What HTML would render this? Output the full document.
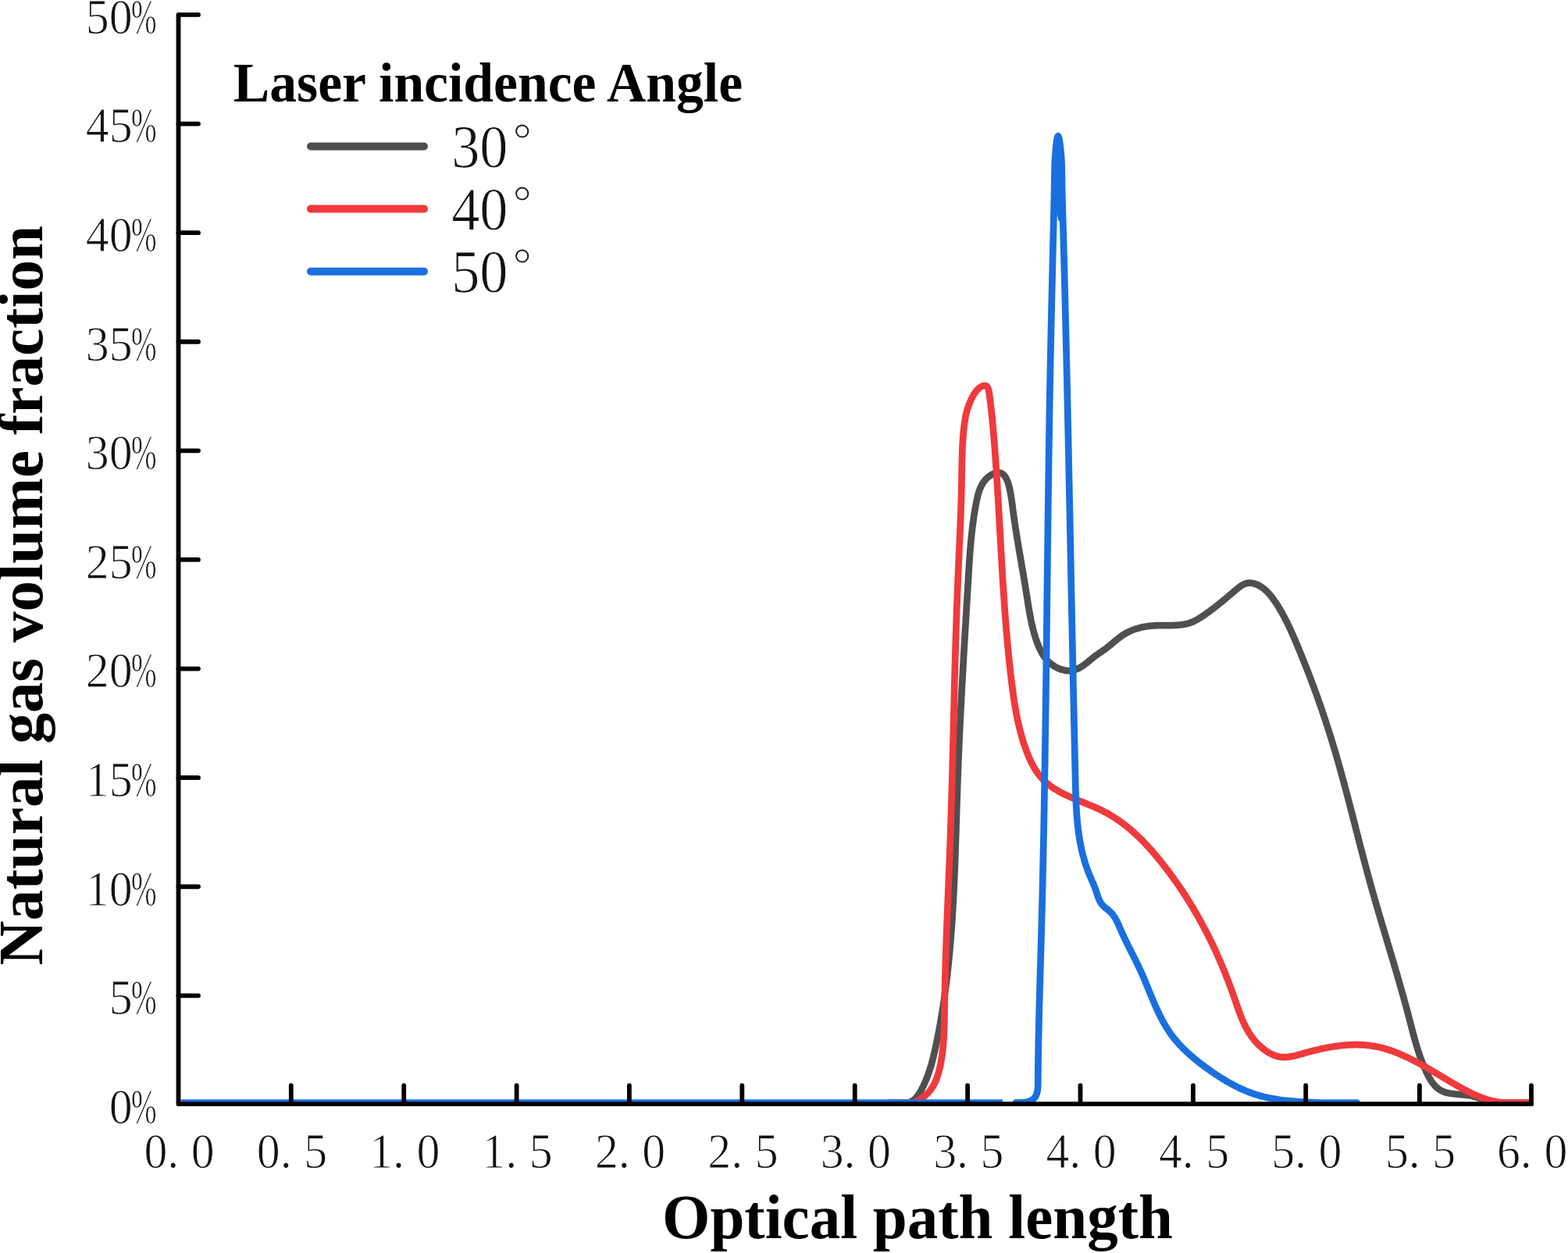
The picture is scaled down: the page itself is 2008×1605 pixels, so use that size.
<!DOCTYPE html>
<html><head><meta charset="utf-8"><title>Natural gas volume fraction vs optical path length</title>
<style>html,body{margin:0;padding:0;background:#fff;overflow:hidden;}svg{display:block;filter:blur(0.7px);}</style></head>
<body>
<svg width="2008" height="1605" viewBox="0 0 2008 1605">
<rect width="2008" height="1605" fill="#fff"/>
<defs><clipPath id="pc"><rect x="0" y="0" width="2008" height="1416.5"/></clipPath></defs><g clip-path="url(#pc)" fill="none" stroke-width="8.7" stroke-linecap="round" stroke-linejoin="round"><path d="M1140.0,1412.6L1160.1,1412.8L1161.7,1412.6L1163.2,1412.4L1164.6,1412.0L1165.9,1411.5L1167.2,1410.9L1168.5,1410.2L1169.6,1409.4L1170.7,1408.6L1171.8,1407.6L1172.8,1406.6L1173.8,1405.5L1174.7,1404.3L1175.6,1403.1L1176.5,1401.9L1177.3,1400.6L1178.1,1399.3L1178.8,1398.0L1179.6,1396.6L1180.3,1395.3L1181.0,1393.9L1181.7,1392.5L1182.4,1391.2L1183.0,1389.8L1183.7,1388.4L1184.3,1387.0L1184.9,1385.6L1185.5,1384.2L1186.1,1382.8L1186.7,1381.4L1187.2,1380.0L1187.7,1378.6L1188.3,1377.2L1188.8,1375.8L1189.3,1374.4L1189.8,1372.9L1190.2,1371.5L1190.7,1370.1L1191.2,1368.6L1191.6,1367.2L1192.0,1365.8L1192.5,1364.3L1192.9,1362.9L1193.3,1361.4L1193.7,1360.0L1194.1,1358.5L1194.4,1357.1L1194.8,1355.6L1195.2,1354.2L1195.5,1352.7L1195.9,1351.2L1196.2,1349.8L1196.6,1348.3L1196.9,1346.8L1197.2,1345.4L1197.6,1343.9L1197.9,1342.4L1198.2,1341.0L1198.5,1339.5L1198.8,1338.0L1199.1,1336.6L1199.4,1335.1L1199.7,1333.6L1200.0,1332.2L1200.3,1330.7L1200.6,1329.2L1200.9,1327.8L1201.2,1326.3L1201.5,1324.8L1201.8,1323.3L1202.1,1321.9L1202.4,1320.4L1202.6,1318.9L1202.9,1317.5L1203.2,1316.0L1203.4,1314.5L1203.7,1313.0L1204.0,1311.6L1204.2,1310.1L1204.5,1308.6L1204.8,1307.1L1205.0,1305.7L1205.3,1304.2L1205.5,1302.7L1205.8,1301.2L1206.0,1299.8L1206.2,1298.3L1206.5,1296.8L1206.7,1295.3L1207.0,1293.8L1207.2,1292.4L1207.4,1290.9L1207.7,1289.4L1207.9,1287.9L1208.1,1286.5L1208.3,1285.0L1208.5,1283.5L1208.8,1282.0L1209.0,1280.5L1209.2,1279.1L1209.4,1277.6L1209.6,1276.1L1209.8,1274.6L1210.0,1273.1L1210.2,1271.6L1210.4,1270.2L1210.6,1268.7L1210.8,1267.2L1211.0,1265.7L1211.2,1264.2L1211.4,1262.8L1211.6,1261.3L1211.8,1259.8L1212.0,1258.3L1212.1,1256.8L1212.3,1255.3L1212.5,1253.8L1212.7,1252.4L1212.9,1250.9L1213.0,1249.4L1213.2,1247.9L1213.4,1246.4L1213.5,1244.9L1213.7,1243.4L1213.9,1242.0L1214.0,1240.5L1214.2,1239.0L1214.3,1237.5L1214.5,1236.0L1214.7,1234.5L1214.8,1233.0L1215.0,1231.5L1215.1,1230.1L1215.3,1228.6L1215.4,1227.1L1215.5,1225.6L1215.7,1224.1L1215.8,1222.6L1216.0,1221.1L1216.1,1219.6L1216.2,1218.1L1216.4,1216.7L1216.5,1215.2L1216.6,1213.7L1216.8,1212.2L1216.9,1210.7L1217.0,1209.2L1217.2,1207.7L1217.3,1206.2L1217.4,1204.7L1217.5,1203.2L1217.6,1201.7L1217.8,1200.2L1217.9,1198.8L1218.0,1197.3L1218.1,1195.8L1218.2,1194.3L1218.3,1192.8L1218.4,1191.3L1218.5,1189.8L1218.7,1188.3L1218.8,1186.8L1218.9,1185.3L1219.0,1183.8L1219.1,1182.3L1219.2,1180.8L1219.3,1179.3L1219.4,1177.8L1219.5,1176.3L1219.6,1174.8L1219.7,1173.4L1219.8,1171.9L1219.8,1170.4L1219.9,1168.9L1220.0,1167.4L1220.1,1165.9L1220.2,1164.4L1220.3,1162.9L1220.4,1161.4L1220.5,1159.9L1220.5,1158.4L1220.6,1156.9L1220.7,1155.4L1220.8,1153.9L1220.9,1152.4L1221.0,1150.9L1221.0,1149.4L1221.1,1147.9L1221.2,1146.4L1221.3,1144.9L1221.3,1143.4L1221.4,1141.9L1221.5,1140.4L1221.6,1138.9L1221.6,1137.4L1221.7,1135.9L1221.8,1134.4L1221.8,1132.9L1221.9,1131.4L1222.0,1129.9L1222.0,1128.4L1222.1,1126.9L1222.2,1125.4L1222.2,1123.9L1222.3,1122.4L1222.4,1120.9L1222.4,1119.4L1222.5,1117.9L1222.5,1116.4L1222.6,1114.9L1222.7,1113.4L1222.7,1111.9L1222.8,1110.4L1222.8,1108.9L1222.9,1107.4L1222.9,1105.9L1223.0,1104.4L1223.1,1102.9L1223.1,1101.4L1223.2,1099.9L1223.2,1098.4L1223.3,1096.9L1223.3,1095.4L1223.4,1093.9L1223.4,1092.4L1223.5,1090.9L1223.5,1089.4L1223.6,1087.9L1223.6,1086.4L1223.7,1084.9L1223.7,1083.4L1223.8,1081.9L1223.8,1080.4L1223.9,1078.9L1223.9,1077.4L1224.0,1075.9L1224.0,1074.4L1224.1,1072.9L1224.1,1071.4L1224.2,1069.9L1224.2,1068.4L1224.3,1066.9L1224.3,1065.4L1224.4,1063.9L1224.4,1062.4L1224.5,1060.9L1224.5,1059.4L1224.5,1057.9L1224.6,1056.4L1224.6,1054.9L1224.7,1053.4L1224.7,1051.9L1224.8,1050.4L1224.8,1048.9L1224.9,1047.4L1224.9,1045.9L1225.0,1044.4L1225.0,1042.9L1225.1,1041.4L1225.1,1039.9L1225.1,1038.4L1225.2,1036.9L1225.2,1035.3L1225.3,1033.8L1225.3,1032.3L1225.4,1030.8L1225.4,1029.3L1225.5,1027.8L1225.5,1026.3L1225.6,1024.8L1225.6,1023.3L1225.7,1021.8L1225.7,1020.3L1225.8,1018.8L1225.8,1017.3L1225.9,1015.8L1225.9,1014.3L1226.0,1012.8L1226.0,1011.3L1226.1,1009.8L1226.1,1008.3L1226.2,1006.8L1226.2,1005.3L1226.3,1003.8L1226.3,1002.3L1226.4,1000.8L1226.4,999.3L1226.5,997.8L1226.5,996.3L1226.6,994.8L1226.6,993.3L1226.7,991.8L1226.8,990.3L1226.8,988.8L1226.9,987.3L1226.9,985.8L1227.0,984.3L1227.0,982.8L1227.1,981.3L1227.2,979.8L1227.2,978.3L1227.3,976.8L1227.3,975.3L1227.4,973.8L1227.5,972.3L1227.5,970.8L1227.6,969.3L1227.7,967.8L1227.7,966.3L1227.8,964.8L1227.8,963.3L1227.9,961.8L1228.0,960.3L1228.0,958.8L1228.1,957.3L1228.2,955.8L1228.2,954.3L1228.3,952.8L1228.4,951.3L1228.4,949.8L1228.5,948.3L1228.6,946.8L1228.6,945.3L1228.7,943.8L1228.8,942.3L1228.8,940.8L1228.9,939.3L1229.0,937.8L1229.1,936.3L1229.1,934.8L1229.2,933.3L1229.3,931.8L1229.3,930.3L1229.4,928.8L1229.5,927.3L1229.6,925.8L1229.6,924.3L1229.7,922.8L1229.8,921.3L1229.8,919.8L1229.9,918.3L1230.0,916.8L1230.1,915.3L1230.1,913.8L1230.2,912.3L1230.3,910.8L1230.4,909.3L1230.5,907.8L1230.5,906.3L1230.6,904.8L1230.7,903.3L1230.8,901.8L1230.8,900.3L1230.9,898.8L1231.0,897.3L1231.1,895.8L1231.1,894.3L1231.2,892.8L1231.3,891.3L1231.4,889.8L1231.5,888.3L1231.5,886.8L1231.6,885.3L1231.7,883.8L1231.8,882.3L1231.9,880.8L1231.9,879.3L1232.0,877.8L1232.1,876.3L1232.2,874.8L1232.3,873.3L1232.4,871.8L1232.4,870.3L1232.5,868.8L1232.6,867.3L1232.7,865.8L1232.8,864.3L1232.9,862.8L1232.9,861.4L1233.0,859.9L1233.1,858.4L1233.2,856.9L1233.3,855.4L1233.4,853.9L1233.4,852.4L1233.5,850.9L1233.6,849.4L1233.7,847.9L1233.8,846.4L1233.9,844.9L1233.9,843.4L1234.0,841.9L1234.1,840.4L1234.2,838.9L1234.3,837.4L1234.4,835.9L1234.5,834.4L1234.6,832.9L1234.6,831.4L1234.7,829.9L1234.8,828.4L1234.9,827.0L1235.0,825.5L1235.1,824.0L1235.2,822.5L1235.3,821.0L1235.3,819.5L1235.4,818.0L1235.5,816.5L1235.6,815.0L1235.7,813.5L1235.8,812.0L1235.9,810.5L1236.0,809.0L1236.0,807.5L1236.1,806.0L1236.2,804.5L1236.3,803.0L1236.4,801.6L1236.5,800.1L1236.6,798.6L1236.7,797.1L1236.8,795.6L1236.8,794.1L1236.9,792.6L1237.0,791.1L1237.1,789.6L1237.2,788.1L1237.3,786.6L1237.4,785.1L1237.5,783.6L1237.6,782.1L1237.6,780.7L1237.7,779.2L1237.8,777.7L1237.9,776.2L1238.0,774.7L1238.1,773.2L1238.2,771.7L1238.3,770.2L1238.4,768.7L1238.5,767.2L1238.5,765.7L1238.6,764.2L1238.7,762.8L1238.8,761.3L1238.9,759.8L1239.0,758.3L1239.1,756.8L1239.2,755.3L1239.3,753.8L1239.4,752.3L1239.4,750.8L1239.5,749.3L1239.6,747.9L1239.7,746.4L1239.8,744.9L1239.9,743.4L1240.0,741.9L1240.1,740.4L1240.2,738.9L1240.3,737.4L1240.3,735.9L1240.4,734.4L1240.5,733.0L1240.6,731.5L1240.7,730.0L1240.8,728.5L1240.9,727.0L1241.0,725.5L1241.1,724.0L1241.2,722.5L1241.3,721.0L1241.4,719.6L1241.5,718.1L1241.6,716.6L1241.7,715.1L1241.8,713.6L1241.9,712.1L1242.0,710.6L1242.1,709.1L1242.2,707.6L1242.3,706.1L1242.4,704.7L1242.6,703.2L1242.7,701.7L1242.8,700.2L1242.9,698.7L1243.1,697.2L1243.2,695.7L1243.3,694.2L1243.5,692.7L1243.6,691.2L1243.7,689.7L1243.9,688.2L1244.0,686.7L1244.2,685.2L1244.4,683.7L1244.5,682.2L1244.7,680.7L1244.9,679.2L1245.0,677.7L1245.2,676.2L1245.4,674.7L1245.6,673.2L1245.8,671.7L1246.0,670.2L1246.2,668.7L1246.4,667.2L1246.6,665.7L1246.8,664.2L1247.0,662.7L1247.2,661.2L1247.5,659.7L1247.7,658.2L1247.9,656.7L1248.2,655.2L1248.4,653.6L1248.7,652.1L1249.0,650.6L1249.2,649.1L1249.5,647.6L1249.8,646.1L1250.1,644.6L1250.4,643.0L1250.7,641.5L1251.0,640.0L1251.3,638.5L1251.7,637.0L1252.0,635.5L1252.4,634.0L1252.8,632.5L1253.3,631.1L1253.7,629.7L1254.2,628.2L1254.7,626.8L1255.3,625.4L1255.9,624.1L1256.5,622.7L1257.2,621.4L1257.9,620.2L1258.6,618.9L1259.4,617.7L1260.3,616.5L1261.2,615.4L1262.1,614.3L1263.1,613.2L1264.2,612.2L1265.3,611.2L1266.5,610.2L1267.8,609.4L1269.0,608.6L1270.3,607.8L1271.7,607.2L1273.0,606.6L1274.3,606.2L1275.7,605.8L1277.0,605.6L1278.3,605.5L1279.5,605.5L1280.7,605.7L1281.9,606.0L1283.0,606.5L1284.0,607.2L1285.0,608.0L1285.9,608.9L1286.8,610.0L1287.6,611.2L1288.3,612.4L1289.0,613.8L1289.7,615.3L1290.3,616.8L1290.8,618.4L1291.4,620.0L1291.9,621.7L1292.3,623.4L1292.7,625.1L1293.1,626.8L1293.5,628.5L1293.8,630.1L1294.1,631.8L1294.4,633.4L1294.7,634.9L1294.9,636.5L1295.2,638.0L1295.4,639.5L1295.6,641.0L1295.8,642.5L1296.0,644.0L1296.2,645.4L1296.4,646.9L1296.6,648.3L1296.7,649.7L1296.9,651.2L1297.1,652.6L1297.3,654.1L1297.5,655.5L1297.7,656.9L1297.9,658.4L1298.1,659.8L1298.3,661.3L1298.5,662.7L1298.7,664.2L1298.9,665.6L1299.1,667.1L1299.3,668.6L1299.5,670.0L1299.8,671.5L1300.0,672.9L1300.2,674.4L1300.4,675.9L1300.7,677.3L1300.9,678.8L1301.1,680.3L1301.3,681.7L1301.6,683.2L1301.8,684.7L1302.1,686.1L1302.3,687.6L1302.5,689.1L1302.8,690.5L1303.0,692.0L1303.3,693.5L1303.5,695.0L1303.7,696.4L1304.0,697.9L1304.2,699.4L1304.5,700.9L1304.7,702.4L1305.0,703.8L1305.2,705.3L1305.5,706.8L1305.7,708.3L1306.0,709.8L1306.2,711.2L1306.5,712.7L1306.8,714.2L1307.0,715.7L1307.3,717.2L1307.5,718.7L1307.8,720.2L1308.0,721.6L1308.3,723.1L1308.5,724.6L1308.8,726.1L1309.0,727.6L1309.3,729.1L1309.6,730.6L1309.8,732.1L1310.1,733.6L1310.3,735.0L1310.6,736.5L1310.8,738.0L1311.1,739.5L1311.3,741.0L1311.6,742.5L1311.8,744.0L1312.1,745.5L1312.3,747.0L1312.6,748.5L1312.8,749.9L1313.1,751.4L1313.3,752.9L1313.5,754.4L1313.8,755.9L1314.0,757.4L1314.3,758.9L1314.5,760.4L1314.7,761.9L1315.0,763.4L1315.2,764.8L1315.4,766.3L1315.7,767.8L1315.9,769.3L1316.1,770.8L1316.4,772.3L1316.6,773.8L1316.8,775.3L1317.1,776.7L1317.3,778.2L1317.6,779.7L1317.8,781.2L1318.1,782.7L1318.3,784.1L1318.6,785.6L1318.9,787.1L1319.2,788.6L1319.4,790.0L1319.7,791.5L1320.0,793.0L1320.3,794.4L1320.6,795.9L1320.9,797.3L1321.2,798.8L1321.6,800.3L1321.9,801.7L1322.3,803.2L1322.6,804.6L1323.0,806.0L1323.3,807.5L1323.7,808.9L1324.1,810.4L1324.5,811.8L1325.0,813.2L1325.4,814.7L1325.8,816.1L1326.3,817.5L1326.7,818.9L1327.2,820.3L1327.7,821.7L1328.2,823.1L1328.7,824.5L1329.3,825.9L1329.9,827.3L1330.4,828.7L1331.0,830.0L1331.7,831.4L1332.3,832.7L1333.0,834.0L1333.7,835.3L1334.4,836.6L1335.1,837.9L1335.9,839.1L1336.7,840.3L1337.6,841.5L1338.4,842.7L1339.3,843.8L1340.3,844.9L1341.2,846.0L1342.2,847.1L1343.3,848.1L1344.4,849.1L1345.5,850.1L1346.7,851.0L1347.9,851.9L1349.1,852.7L1350.4,853.6L1351.8,854.3L1353.1,855.1L1354.6,855.8L1356.0,856.4L1357.5,857.0L1359.0,857.5L1360.5,857.9L1362.0,858.3L1363.6,858.7L1365.1,858.9L1366.6,859.1L1368.2,859.2L1369.7,859.2L1371.1,859.1L1372.6,859.0L1374.0,858.7L1375.4,858.4L1376.8,857.9L1378.1,857.4L1379.5,856.9L1380.8,856.3L1382.1,855.6L1383.4,854.9L1384.6,854.1L1385.9,853.3L1387.1,852.5L1388.4,851.6L1389.6,850.7L1390.8,849.8L1392.0,848.8L1393.2,847.9L1394.4,846.9L1395.6,845.9L1396.8,844.9L1398.0,844.0L1399.1,843.0L1400.3,842.1L1401.5,841.1L1402.7,840.2L1403.9,839.3L1405.1,838.4L1406.4,837.6L1407.6,836.7L1408.8,835.9L1410.0,835.1L1411.2,834.3L1412.4,833.4L1413.6,832.6L1414.8,831.8L1416.0,830.9L1417.2,830.0L1418.4,829.0L1419.6,828.1L1420.8,827.1L1422.0,826.2L1423.1,825.2L1424.3,824.2L1425.5,823.2L1426.7,822.2L1427.9,821.2L1429.0,820.3L1430.2,819.3L1431.4,818.3L1432.6,817.4L1433.8,816.5L1435.1,815.5L1436.3,814.7L1437.5,813.8L1438.8,813.0L1440.1,812.2L1441.3,811.4L1442.6,810.7L1444.0,810.0L1445.3,809.3L1446.6,808.7L1447.9,808.1L1449.3,807.5L1450.7,807.0L1452.0,806.5L1453.4,806.0L1454.8,805.5L1456.2,805.1L1457.7,804.7L1459.1,804.3L1460.5,803.9L1461.9,803.6L1463.4,803.3L1464.8,803.0L1466.3,802.7L1467.8,802.5L1469.2,802.3L1470.7,802.1L1472.2,801.9L1473.7,801.7L1475.2,801.6L1476.7,801.5L1478.2,801.4L1479.7,801.3L1481.2,801.2L1482.7,801.2L1484.2,801.1L1485.7,801.1L1487.2,801.1L1488.7,801.1L1490.2,801.1L1491.8,801.1L1493.3,801.1L1494.8,801.1L1496.3,801.1L1497.8,801.1L1499.3,801.1L1500.8,801.1L1502.3,801.0L1503.8,801.0L1505.3,800.9L1506.8,800.8L1508.3,800.7L1509.8,800.6L1511.2,800.5L1512.7,800.3L1514.2,800.1L1515.6,799.9L1517.1,799.6L1518.5,799.3L1520.0,799.0L1521.4,798.6L1522.8,798.2L1524.2,797.7L1525.6,797.2L1527.0,796.7L1528.4,796.1L1529.7,795.4L1531.1,794.7L1532.4,794.0L1533.8,793.2L1535.1,792.4L1536.4,791.6L1537.7,790.8L1539.0,790.0L1540.3,789.1L1541.6,788.2L1542.8,787.4L1544.1,786.5L1545.3,785.6L1546.6,784.7L1547.8,783.9L1549.0,783.0L1550.2,782.1L1551.4,781.2L1552.6,780.3L1553.8,779.4L1554.9,778.5L1556.1,777.6L1557.3,776.7L1558.4,775.8L1559.6,774.9L1560.7,774.0L1561.9,773.0L1563.0,772.1L1564.2,771.2L1565.3,770.2L1566.5,769.3L1567.6,768.3L1568.8,767.4L1569.9,766.4L1571.0,765.5L1572.2,764.5L1573.3,763.5L1574.5,762.6L1575.6,761.6L1576.8,760.6L1578.0,759.6L1579.1,758.6L1580.3,757.6L1581.5,756.6L1582.7,755.6L1583.8,754.6L1585.0,753.6L1586.3,752.6L1587.5,751.7L1588.7,750.9L1590.0,750.0L1591.2,749.3L1592.5,748.6L1593.8,748.0L1595.2,747.5L1596.5,747.1L1597.9,746.9L1599.3,746.7L1600.7,746.7L1602.2,746.8L1603.6,747.0L1605.1,747.3L1606.5,747.7L1607.9,748.1L1609.3,748.6L1610.7,749.2L1612.0,749.9L1613.3,750.6L1614.5,751.3L1615.7,752.1L1616.9,752.9L1618.1,753.8L1619.3,754.7L1620.4,755.7L1621.5,756.7L1622.6,757.8L1623.6,758.9L1624.7,760.0L1625.7,761.1L1626.7,762.3L1627.6,763.5L1628.6,764.7L1629.5,765.9L1630.4,767.1L1631.3,768.4L1632.2,769.7L1633.1,771.0L1634.0,772.3L1634.8,773.5L1635.6,774.8L1636.5,776.1L1637.3,777.4L1638.1,778.8L1638.8,780.1L1639.6,781.4L1640.4,782.7L1641.1,784.0L1641.9,785.3L1642.6,786.6L1643.3,788.0L1644.1,789.3L1644.8,790.6L1645.5,792.0L1646.2,793.3L1646.8,794.6L1647.5,796.0L1648.2,797.3L1648.8,798.7L1649.5,800.0L1650.1,801.3L1650.8,802.7L1651.4,804.0L1652.0,805.4L1652.7,806.8L1653.3,808.1L1653.9,809.5L1654.5,810.8L1655.1,812.2L1655.7,813.6L1656.3,814.9L1656.9,816.3L1657.5,817.6L1658.1,819.0L1658.7,820.4L1659.2,821.8L1659.8,823.1L1660.4,824.5L1661.0,825.9L1661.6,827.2L1662.1,828.6L1662.7,830.0L1663.3,831.4L1663.9,832.8L1664.4,834.1L1665.0,835.5L1665.6,836.9L1666.1,838.3L1666.7,839.7L1667.2,841.0L1667.8,842.4L1668.4,843.8L1668.9,845.2L1669.5,846.6L1670.0,848.0L1670.6,849.4L1671.1,850.8L1671.7,852.1L1672.2,853.5L1672.8,854.9L1673.3,856.3L1673.9,857.7L1674.4,859.1L1675.0,860.5L1675.5,861.9L1676.0,863.3L1676.6,864.7L1677.1,866.1L1677.7,867.5L1678.2,868.9L1678.7,870.3L1679.2,871.7L1679.8,873.1L1680.3,874.5L1680.8,875.9L1681.4,877.3L1681.9,878.7L1682.4,880.1L1682.9,881.5L1683.4,883.0L1683.9,884.4L1684.5,885.8L1685.0,887.2L1685.5,888.6L1686.0,890.0L1686.5,891.4L1687.0,892.8L1687.5,894.2L1688.0,895.7L1688.5,897.1L1689.0,898.5L1689.5,899.9L1690.0,901.3L1690.5,902.7L1691.0,904.2L1691.5,905.6L1692.0,907.0L1692.5,908.4L1693.0,909.8L1693.4,911.3L1693.9,912.7L1694.4,914.1L1694.9,915.5L1695.4,917.0L1695.8,918.4L1696.3,919.8L1696.8,921.2L1697.3,922.7L1697.7,924.1L1698.2,925.5L1698.7,926.9L1699.1,928.4L1699.6,929.8L1700.1,931.2L1700.5,932.7L1701.0,934.1L1701.4,935.5L1701.9,936.9L1702.4,938.4L1702.8,939.8L1703.3,941.2L1703.7,942.7L1704.2,944.1L1704.6,945.5L1705.0,947.0L1705.5,948.4L1705.9,949.8L1706.4,951.3L1706.8,952.7L1707.2,954.2L1707.7,955.6L1708.1,957.0L1708.5,958.5L1709.0,959.9L1709.4,961.3L1709.8,962.8L1710.2,964.2L1710.7,965.7L1711.1,967.1L1711.5,968.5L1711.9,970.0L1712.3,971.4L1712.7,972.9L1713.2,974.3L1713.6,975.7L1714.0,977.2L1714.4,978.6L1714.8,980.1L1715.2,981.5L1715.6,983.0L1716.0,984.4L1716.4,985.8L1716.8,987.3L1717.2,988.7L1717.6,990.2L1718.0,991.6L1718.4,993.1L1718.8,994.5L1719.2,995.9L1719.6,997.4L1720.0,998.8L1720.4,1000.3L1720.8,1001.7L1721.2,1003.2L1721.5,1004.6L1721.9,1006.1L1722.3,1007.5L1722.7,1009.0L1723.1,1010.4L1723.5,1011.9L1723.9,1013.3L1724.3,1014.8L1724.6,1016.2L1725.0,1017.7L1725.4,1019.1L1725.8,1020.5L1726.2,1022.0L1726.5,1023.4L1726.9,1024.9L1727.3,1026.3L1727.7,1027.8L1728.1,1029.2L1728.4,1030.7L1728.8,1032.1L1729.2,1033.6L1729.6,1035.0L1729.9,1036.5L1730.3,1037.9L1730.7,1039.4L1731.1,1040.8L1731.4,1042.3L1731.8,1043.7L1732.2,1045.2L1732.5,1046.6L1732.9,1048.1L1733.3,1049.5L1733.7,1051.0L1734.0,1052.4L1734.4,1053.9L1734.8,1055.3L1735.2,1056.8L1735.5,1058.2L1735.9,1059.7L1736.3,1061.1L1736.6,1062.6L1737.0,1064.1L1737.4,1065.5L1737.8,1067.0L1738.1,1068.4L1738.5,1069.9L1738.9,1071.3L1739.3,1072.8L1739.6,1074.2L1740.0,1075.7L1740.4,1077.1L1740.7,1078.6L1741.1,1080.0L1741.5,1081.5L1741.9,1082.9L1742.2,1084.4L1742.6,1085.8L1743.0,1087.3L1743.4,1088.7L1743.8,1090.2L1744.1,1091.6L1744.5,1093.1L1744.9,1094.5L1745.3,1096.0L1745.6,1097.4L1746.0,1098.9L1746.4,1100.3L1746.8,1101.8L1747.2,1103.2L1747.6,1104.7L1747.9,1106.1L1748.3,1107.5L1748.7,1109.0L1749.1,1110.4L1749.5,1111.9L1749.9,1113.3L1750.3,1114.8L1750.6,1116.2L1751.0,1117.7L1751.4,1119.1L1751.8,1120.6L1752.2,1122.0L1752.6,1123.5L1753.0,1124.9L1753.4,1126.4L1753.8,1127.8L1754.2,1129.3L1754.6,1130.7L1755.0,1132.1L1755.4,1133.6L1755.8,1135.0L1756.2,1136.5L1756.6,1137.9L1757.0,1139.4L1757.4,1140.8L1757.8,1142.2L1758.2,1143.7L1758.6,1145.1L1759.1,1146.6L1759.5,1148.0L1759.9,1149.5L1760.3,1150.9L1760.7,1152.3L1761.1,1153.8L1761.5,1155.2L1762.0,1156.7L1762.4,1158.1L1762.8,1159.6L1763.2,1161.0L1763.6,1162.4L1764.1,1163.9L1764.5,1165.3L1764.9,1166.8L1765.3,1168.2L1765.7,1169.6L1766.2,1171.1L1766.6,1172.5L1767.0,1174.0L1767.4,1175.4L1767.9,1176.8L1768.3,1178.3L1768.7,1179.7L1769.1,1181.2L1769.6,1182.6L1770.0,1184.0L1770.4,1185.5L1770.8,1186.9L1771.3,1188.4L1771.7,1189.8L1772.1,1191.2L1772.6,1192.7L1773.0,1194.1L1773.4,1195.6L1773.8,1197.0L1774.3,1198.4L1774.7,1199.9L1775.1,1201.3L1775.6,1202.7L1776.0,1204.2L1776.4,1205.6L1776.8,1207.1L1777.3,1208.5L1777.7,1209.9L1778.1,1211.4L1778.6,1212.8L1779.0,1214.3L1779.4,1215.7L1779.8,1217.1L1780.3,1218.6L1780.7,1220.0L1781.1,1221.4L1781.6,1222.9L1782.0,1224.3L1782.4,1225.8L1782.8,1227.2L1783.3,1228.6L1783.7,1230.1L1784.1,1231.5L1784.5,1233.0L1785.0,1234.4L1785.4,1235.8L1785.8,1237.3L1786.2,1238.7L1786.7,1240.2L1787.1,1241.6L1787.5,1243.0L1787.9,1244.5L1788.3,1245.9L1788.8,1247.4L1789.2,1248.8L1789.6,1250.2L1790.0,1251.7L1790.4,1253.1L1790.9,1254.6L1791.3,1256.0L1791.7,1257.4L1792.1,1258.9L1792.5,1260.3L1792.9,1261.8L1793.3,1263.2L1793.8,1264.6L1794.2,1266.1L1794.6,1267.5L1795.0,1269.0L1795.4,1270.4L1795.8,1271.9L1796.2,1273.3L1796.6,1274.7L1797.0,1276.2L1797.4,1277.6L1797.8,1279.1L1798.2,1280.5L1798.6,1282.0L1799.0,1283.4L1799.4,1284.9L1799.8,1286.3L1800.2,1287.7L1800.6,1289.2L1801.0,1290.6L1801.4,1292.1L1801.8,1293.5L1802.2,1295.0L1802.5,1296.4L1802.9,1297.9L1803.3,1299.3L1803.7,1300.8L1804.1,1302.2L1804.4,1303.7L1804.8,1305.1L1805.2,1306.6L1805.6,1308.0L1806.0,1309.4L1806.3,1310.9L1806.7,1312.3L1807.1,1313.8L1807.5,1315.2L1807.8,1316.7L1808.2,1318.1L1808.6,1319.6L1809.0,1321.0L1809.3,1322.5L1809.7,1323.9L1810.1,1325.4L1810.5,1326.8L1810.9,1328.3L1811.3,1329.7L1811.7,1331.1L1812.1,1332.6L1812.5,1334.0L1812.9,1335.5L1813.3,1336.9L1813.8,1338.3L1814.2,1339.8L1814.6,1341.2L1815.1,1342.6L1815.5,1344.1L1816.0,1345.5L1816.4,1346.9L1816.9,1348.4L1817.4,1349.8L1817.8,1351.2L1818.3,1352.6L1818.8,1354.1L1819.3,1355.5L1819.9,1356.9L1820.4,1358.3L1820.9,1359.7L1821.5,1361.1L1822.0,1362.5L1822.6,1363.9L1823.2,1365.3L1823.8,1366.7L1824.4,1368.1L1825.0,1369.5L1825.6,1370.9L1826.2,1372.3L1826.9,1373.7L1827.6,1375.1L1828.2,1376.4L1828.9,1377.8L1829.6,1379.2L1830.4,1380.5L1831.1,1381.8L1831.9,1383.1L1832.7,1384.4L1833.5,1385.6L1834.4,1386.8L1835.3,1388.0L1836.2,1389.1L1837.1,1390.2L1838.1,1391.3L1839.1,1392.3L1840.2,1393.2L1841.3,1394.1L1842.4,1395.0L1843.5,1395.8L1844.7,1396.5L1846.0,1397.2L1847.3,1397.8L1848.6,1398.3L1850.0,1398.8L1851.4,1399.3L1852.8,1399.7L1854.3,1400.0L1855.7,1400.3L1857.3,1400.6L1858.8,1400.8L1860.3,1401.0L1861.9,1401.2L1863.5,1401.4L1865.1,1401.5L1866.7,1401.7L1868.3,1401.8L1869.9,1401.9L1871.5,1402.1L1873.1,1402.2L1874.6,1402.3L1876.2,1402.5L1877.8,1402.7L1879.3,1402.9L1880.9,1403.1L1882.4,1403.3L1883.9,1403.6L1885.3,1403.9L1886.7,1404.3L1888.1,1404.7L1889.5,1405.1L1890.9,1405.5L1892.2,1406.0L1893.5,1406.5L1894.9,1407.0L1896.2,1407.5L1897.5,1408.1L1898.8,1408.6L1900.2,1409.1L1901.5,1409.6L1902.9,1410.0L1904.3,1410.5L1905.7,1410.9L1907.2,1411.3L1908.6,1411.7L1910.2,1412.0L1911.7,1412.3L1913.3,1412.5L1915.0,1412.6L1958.0,1412.6" stroke="#4f4f4f" />
<path d="M1150.0,1412.6L1168.0,1412.6L1169.4,1412.1L1170.8,1411.6L1172.1,1411.1L1173.5,1410.5L1174.9,1409.9L1176.2,1409.2L1177.5,1408.5L1178.8,1407.7L1180.1,1406.8L1181.3,1406.0L1182.6,1405.1L1183.8,1404.1L1185.0,1403.1L1186.1,1402.1L1187.2,1401.1L1188.3,1400.0L1189.3,1398.9L1190.3,1397.7L1191.3,1396.6L1192.2,1395.4L1193.1,1394.1L1193.9,1392.9L1194.7,1391.7L1195.4,1390.4L1196.1,1389.1L1196.8,1387.8L1197.4,1386.4L1198.1,1385.1L1198.6,1383.7L1199.2,1382.3L1199.7,1380.9L1200.2,1379.5L1200.7,1378.1L1201.1,1376.7L1201.6,1375.2L1202.0,1373.8L1202.4,1372.4L1202.7,1370.9L1203.1,1369.4L1203.4,1368.0L1203.8,1366.5L1204.1,1365.0L1204.4,1363.6L1204.7,1362.1L1205.0,1360.6L1205.2,1359.2L1205.5,1357.7L1205.7,1356.2L1206.0,1354.7L1206.2,1353.2L1206.4,1351.8L1206.6,1350.3L1206.8,1348.8L1207.0,1347.3L1207.2,1345.8L1207.3,1344.3L1207.5,1342.9L1207.6,1341.4L1207.8,1339.9L1207.9,1338.4L1208.0,1336.9L1208.1,1335.4L1208.3,1333.9L1208.4,1332.4L1208.5,1330.9L1208.6,1329.4L1208.6,1327.9L1208.7,1326.4L1208.8,1324.9L1208.9,1323.4L1208.9,1321.9L1209.0,1320.4L1209.0,1318.9L1209.1,1317.4L1209.1,1315.9L1209.2,1314.4L1209.2,1312.9L1209.3,1311.4L1209.3,1309.9L1209.3,1308.4L1209.4,1306.9L1209.4,1305.4L1209.4,1303.9L1209.4,1302.4L1209.5,1300.9L1209.5,1299.4L1209.5,1297.9L1209.5,1296.4L1209.5,1294.9L1209.6,1293.4L1209.6,1291.9L1209.6,1290.4L1209.6,1288.9L1209.6,1287.4L1209.7,1285.9L1209.7,1284.4L1209.7,1282.9L1209.7,1281.4L1209.8,1279.9L1209.8,1278.4L1209.8,1276.9L1209.8,1275.4L1209.9,1273.9L1209.9,1272.4L1209.9,1270.9L1210.0,1269.4L1210.0,1267.9L1210.0,1266.4L1210.1,1264.9L1210.1,1263.4L1210.1,1261.9L1210.2,1260.3L1210.2,1258.8L1210.2,1257.3L1210.3,1255.8L1210.3,1254.3L1210.3,1252.8L1210.4,1251.3L1210.4,1249.8L1210.5,1248.3L1210.5,1246.8L1210.5,1245.3L1210.6,1243.8L1210.6,1242.3L1210.7,1240.8L1210.7,1239.3L1210.8,1237.8L1210.8,1236.3L1210.8,1234.8L1210.9,1233.3L1210.9,1231.8L1211.0,1230.3L1211.0,1228.8L1211.1,1227.3L1211.1,1225.8L1211.2,1224.3L1211.2,1222.8L1211.3,1221.3L1211.3,1219.9L1211.4,1218.4L1211.4,1216.9L1211.5,1215.4L1211.5,1213.9L1211.6,1212.4L1211.6,1210.9L1211.7,1209.4L1211.7,1207.9L1211.8,1206.4L1211.8,1204.9L1211.9,1203.4L1211.9,1201.9L1212.0,1200.4L1212.0,1198.9L1212.1,1197.4L1212.2,1195.9L1212.2,1194.4L1212.3,1192.9L1212.3,1191.4L1212.4,1189.9L1212.4,1188.4L1212.5,1186.9L1212.6,1185.4L1212.6,1183.9L1212.7,1182.4L1212.7,1180.9L1212.8,1179.4L1212.8,1177.9L1212.9,1176.4L1213.0,1174.9L1213.0,1173.4L1213.1,1171.9L1213.1,1170.4L1213.2,1168.9L1213.3,1167.4L1213.3,1165.9L1213.4,1164.4L1213.4,1162.9L1213.5,1161.4L1213.6,1159.9L1213.6,1158.4L1213.7,1156.9L1213.7,1155.4L1213.8,1154.0L1213.9,1152.5L1213.9,1151.0L1214.0,1149.5L1214.0,1148.0L1214.1,1146.5L1214.2,1145.0L1214.2,1143.5L1214.3,1142.0L1214.3,1140.5L1214.4,1139.0L1214.5,1137.5L1214.5,1136.0L1214.6,1134.5L1214.7,1133.0L1214.7,1131.5L1214.8,1130.0L1214.8,1128.5L1214.9,1127.0L1215.0,1125.5L1215.0,1124.0L1215.1,1122.5L1215.1,1121.0L1215.2,1119.5L1215.3,1118.0L1215.3,1116.5L1215.4,1115.0L1215.4,1113.5L1215.5,1112.0L1215.6,1110.5L1215.6,1109.0L1215.7,1107.5L1215.7,1106.0L1215.8,1104.5L1215.9,1103.1L1215.9,1101.6L1216.0,1100.1L1216.0,1098.6L1216.1,1097.1L1216.1,1095.6L1216.2,1094.1L1216.3,1092.6L1216.3,1091.1L1216.4,1089.6L1216.4,1088.1L1216.5,1086.6L1216.5,1085.1L1216.6,1083.6L1216.7,1082.1L1216.7,1080.6L1216.8,1079.1L1216.8,1077.6L1216.9,1076.1L1216.9,1074.6L1217.0,1073.1L1217.0,1071.6L1217.1,1070.1L1217.1,1068.6L1217.2,1067.1L1217.2,1065.6L1217.3,1064.1L1217.3,1062.6L1217.4,1061.1L1217.4,1059.6L1217.5,1058.1L1217.5,1056.6L1217.6,1055.1L1217.6,1053.6L1217.7,1052.1L1217.7,1050.6L1217.8,1049.1L1217.8,1047.6L1217.9,1046.1L1217.9,1044.6L1218.0,1043.1L1218.0,1041.6L1218.1,1040.1L1218.1,1038.6L1218.2,1037.1L1218.2,1035.6L1218.3,1034.1L1218.3,1032.6L1218.4,1031.1L1218.4,1029.6L1218.4,1028.1L1218.5,1026.6L1218.5,1025.1L1218.6,1023.6L1218.6,1022.1L1218.7,1020.6L1218.7,1019.1L1218.7,1017.6L1218.8,1016.1L1218.8,1014.6L1218.9,1013.1L1218.9,1011.6L1219.0,1010.1L1219.0,1008.6L1219.0,1007.1L1219.1,1005.6L1219.1,1004.1L1219.2,1002.6L1219.2,1001.1L1219.3,999.6L1219.3,998.1L1219.3,996.6L1219.4,995.1L1219.4,993.6L1219.5,992.1L1219.5,990.6L1219.5,989.1L1219.6,987.6L1219.6,986.1L1219.7,984.6L1219.7,983.1L1219.7,981.6L1219.8,980.1L1219.8,978.6L1219.8,977.1L1219.9,975.6L1219.9,974.1L1220.0,972.6L1220.0,971.1L1220.0,969.6L1220.1,968.1L1220.1,966.6L1220.2,965.1L1220.2,963.6L1220.2,962.1L1220.3,960.6L1220.3,959.1L1220.3,957.6L1220.4,956.1L1220.4,954.6L1220.5,953.1L1220.5,951.6L1220.5,950.1L1220.6,948.6L1220.6,947.1L1220.6,945.6L1220.7,944.1L1220.7,942.6L1220.7,941.1L1220.8,939.6L1220.8,938.1L1220.9,936.6L1220.9,935.1L1220.9,933.6L1221.0,932.1L1221.0,930.6L1221.0,929.1L1221.1,927.6L1221.1,926.1L1221.2,924.6L1221.2,923.1L1221.2,921.6L1221.3,920.1L1221.3,918.6L1221.3,917.1L1221.4,915.6L1221.4,914.1L1221.4,912.6L1221.5,911.1L1221.5,909.6L1221.6,908.1L1221.6,906.6L1221.6,905.1L1221.7,903.6L1221.7,902.1L1221.7,900.6L1221.8,899.1L1221.8,897.6L1221.9,896.1L1221.9,894.6L1221.9,893.1L1222.0,891.6L1222.0,890.1L1222.0,888.6L1222.1,887.1L1222.1,885.6L1222.2,884.1L1222.2,882.6L1222.2,881.1L1222.3,879.6L1222.3,878.1L1222.3,876.6L1222.4,875.1L1222.4,873.6L1222.5,872.1L1222.5,870.6L1222.5,869.1L1222.6,867.6L1222.6,866.1L1222.7,864.6L1222.7,863.1L1222.7,861.6L1222.8,860.1L1222.8,858.6L1222.9,857.1L1222.9,855.6L1222.9,854.1L1223.0,852.6L1223.0,851.1L1223.1,849.6L1223.1,848.1L1223.2,846.6L1223.2,845.1L1223.2,843.6L1223.3,842.1L1223.3,840.6L1223.4,839.1L1223.4,837.6L1223.4,836.1L1223.5,834.6L1223.5,833.1L1223.6,831.6L1223.6,830.1L1223.7,828.6L1223.7,827.1L1223.8,825.6L1223.8,824.1L1223.8,822.6L1223.9,821.1L1223.9,819.6L1224.0,818.1L1224.0,816.6L1224.1,815.1L1224.1,813.6L1224.2,812.1L1224.2,810.6L1224.3,809.1L1224.3,807.6L1224.4,806.1L1224.4,804.6L1224.5,803.1L1224.5,801.6L1224.6,800.1L1224.6,798.6L1224.7,797.1L1224.7,795.6L1224.8,794.1L1224.8,792.6L1224.9,791.1L1224.9,789.6L1225.0,788.1L1225.0,786.6L1225.1,785.1L1225.1,783.6L1225.2,782.1L1225.2,780.6L1225.3,779.1L1225.3,777.6L1225.4,776.1L1225.4,774.7L1225.5,773.2L1225.5,771.7L1225.6,770.2L1225.7,768.7L1225.7,767.2L1225.8,765.7L1225.8,764.2L1225.9,762.7L1225.9,761.2L1226.0,759.7L1226.1,758.2L1226.1,756.7L1226.2,755.2L1226.2,753.7L1226.3,752.2L1226.4,750.7L1226.4,749.2L1226.5,747.7L1226.5,746.2L1226.6,744.7L1226.7,743.2L1226.7,741.7L1226.8,740.3L1226.9,738.8L1226.9,737.3L1227.0,735.8L1227.1,734.3L1227.1,732.8L1227.2,731.3L1227.3,729.8L1227.3,728.3L1227.4,726.8L1227.5,725.3L1227.5,723.8L1227.6,722.3L1227.7,720.8L1227.7,719.3L1227.8,717.8L1227.9,716.3L1227.9,714.9L1228.0,713.4L1228.1,711.9L1228.1,710.4L1228.2,708.9L1228.3,707.4L1228.3,705.9L1228.4,704.4L1228.5,702.9L1228.5,701.4L1228.6,699.9L1228.7,698.4L1228.7,696.9L1228.8,695.4L1228.9,693.9L1228.9,692.4L1229.0,690.9L1229.1,689.4L1229.1,687.9L1229.2,686.4L1229.3,684.9L1229.3,683.4L1229.4,681.9L1229.5,680.5L1229.5,679.0L1229.6,677.5L1229.7,676.0L1229.7,674.5L1229.8,673.0L1229.8,671.5L1229.9,670.0L1230.0,668.5L1230.0,667.0L1230.1,665.5L1230.1,664.0L1230.2,662.5L1230.3,661.0L1230.3,659.5L1230.4,658.0L1230.4,656.4L1230.5,654.9L1230.5,653.4L1230.6,651.9L1230.6,650.4L1230.7,648.9L1230.7,647.4L1230.8,645.9L1230.8,644.4L1230.9,642.9L1230.9,641.4L1231.0,639.9L1231.0,638.4L1231.0,636.9L1231.1,635.4L1231.1,633.9L1231.2,632.3L1231.2,630.8L1231.2,629.3L1231.3,627.8L1231.3,626.3L1231.3,624.8L1231.4,623.3L1231.4,621.8L1231.4,620.2L1231.5,618.7L1231.5,617.2L1231.5,615.7L1231.5,614.2L1231.5,612.7L1231.6,611.1L1231.6,609.6L1231.6,608.1L1231.6,606.6L1231.7,605.1L1231.7,603.6L1231.7,602.0L1231.7,600.5L1231.8,599.0L1231.8,597.5L1231.8,596.0L1231.8,594.5L1231.9,592.9L1231.9,591.4L1231.9,589.9L1232.0,588.4L1232.0,586.9L1232.1,585.4L1232.1,583.9L1232.1,582.4L1232.2,580.9L1232.2,579.4L1232.3,577.9L1232.4,576.4L1232.4,574.9L1232.5,573.4L1232.6,571.9L1232.6,570.4L1232.7,568.9L1232.8,567.5L1232.9,566.0L1233.0,564.5L1233.1,563.0L1233.2,561.5L1233.3,560.1L1233.4,558.6L1233.5,557.1L1233.6,555.7L1233.8,554.2L1233.9,552.8L1234.1,551.3L1234.2,549.9L1234.4,548.4L1234.5,547.0L1234.7,545.5L1234.9,544.1L1235.1,542.7L1235.3,541.2L1235.5,539.8L1235.7,538.4L1235.9,537.0L1236.2,535.5L1236.4,534.1L1236.7,532.7L1237.0,531.3L1237.4,529.8L1237.7,528.4L1238.1,526.9L1238.5,525.5L1238.9,524.0L1239.4,522.6L1239.9,521.1L1240.4,519.6L1241.0,518.1L1241.6,516.6L1242.2,515.1L1242.9,513.6L1243.6,512.0L1244.3,510.5L1245.1,509.0L1245.9,507.5L1246.7,506.0L1247.6,504.6L1248.5,503.2L1249.5,501.9L1250.4,500.6L1251.4,499.4L1252.5,498.4L1253.5,497.4L1254.6,496.5L1255.7,495.7L1256.8,495.1L1257.9,494.6L1259.1,494.2L1260.2,494.0L1261.2,494.0L1262.2,494.1L1263.1,494.5L1263.9,495.1L1264.5,495.9L1265.1,496.9L1265.6,498.0L1265.9,499.3L1266.3,500.7L1266.5,502.2L1266.8,503.7L1267.0,505.2L1267.2,506.8L1267.4,508.3L1267.6,509.9L1267.8,511.4L1268.0,512.9L1268.2,514.5L1268.4,516.0L1268.6,517.5L1268.8,519.1L1268.9,520.6L1269.1,522.1L1269.3,523.6L1269.5,525.1L1269.6,526.6L1269.8,528.1L1269.9,529.6L1270.1,531.1L1270.3,532.6L1270.4,534.1L1270.6,535.6L1270.7,537.1L1270.8,538.6L1271.0,540.1L1271.1,541.6L1271.3,543.1L1271.4,544.6L1271.5,546.0L1271.7,547.5L1271.8,549.0L1271.9,550.5L1272.1,552.0L1272.2,553.5L1272.3,555.0L1272.4,556.5L1272.6,557.9L1272.7,559.4L1272.8,560.9L1272.9,562.4L1273.1,563.9L1273.2,565.4L1273.3,566.9L1273.4,568.4L1273.5,569.9L1273.7,571.3L1273.8,572.8L1273.9,574.3L1274.0,575.8L1274.1,577.3L1274.2,578.8L1274.3,580.3L1274.4,581.8L1274.6,583.3L1274.7,584.8L1274.8,586.3L1274.9,587.8L1275.0,589.3L1275.1,590.8L1275.2,592.3L1275.3,593.7L1275.4,595.2L1275.5,596.7L1275.6,598.2L1275.7,599.7L1275.8,601.2L1275.9,602.7L1276.0,604.2L1276.1,605.7L1276.2,607.2L1276.3,608.7L1276.4,610.2L1276.5,611.7L1276.6,613.2L1276.7,614.7L1276.8,616.2L1276.9,617.7L1277.0,619.2L1277.1,620.7L1277.2,622.2L1277.3,623.7L1277.4,625.2L1277.4,626.7L1277.5,628.2L1277.6,629.7L1277.7,631.2L1277.8,632.7L1277.9,634.2L1278.0,635.7L1278.1,637.2L1278.2,638.7L1278.3,640.2L1278.3,641.7L1278.4,643.2L1278.5,644.7L1278.6,646.2L1278.7,647.7L1278.8,649.2L1278.9,650.7L1279.0,652.2L1279.0,653.7L1279.1,655.2L1279.2,656.7L1279.3,658.2L1279.4,659.7L1279.5,661.2L1279.6,662.7L1279.6,664.2L1279.7,665.7L1279.8,667.2L1279.9,668.7L1280.0,670.2L1280.1,671.7L1280.1,673.2L1280.2,674.7L1280.3,676.2L1280.4,677.8L1280.5,679.3L1280.6,680.8L1280.6,682.3L1280.7,683.8L1280.8,685.3L1280.9,686.8L1281.0,688.3L1281.1,689.8L1281.1,691.3L1281.2,692.8L1281.3,694.3L1281.4,695.8L1281.5,697.3L1281.6,698.8L1281.6,700.3L1281.7,701.8L1281.8,703.3L1281.9,704.8L1282.0,706.3L1282.1,707.8L1282.2,709.3L1282.2,710.8L1282.3,712.3L1282.4,713.8L1282.5,715.3L1282.6,716.8L1282.7,718.3L1282.8,719.8L1282.8,721.3L1282.9,722.8L1283.0,724.3L1283.1,725.8L1283.2,727.3L1283.3,728.8L1283.4,730.3L1283.5,731.8L1283.6,733.3L1283.6,734.8L1283.7,736.3L1283.8,737.8L1283.9,739.3L1284.0,740.8L1284.1,742.3L1284.2,743.8L1284.3,745.3L1284.4,746.8L1284.5,748.3L1284.6,749.8L1284.7,751.3L1284.8,752.8L1284.9,754.3L1285.0,755.8L1285.1,757.3L1285.2,758.8L1285.3,760.3L1285.4,761.8L1285.5,763.3L1285.6,764.8L1285.7,766.3L1285.8,767.8L1285.9,769.3L1286.0,770.8L1286.1,772.3L1286.2,773.8L1286.3,775.3L1286.4,776.8L1286.5,778.3L1286.6,779.8L1286.7,781.3L1286.8,782.8L1286.9,784.3L1287.0,785.8L1287.2,787.3L1287.3,788.8L1287.4,790.3L1287.5,791.8L1287.6,793.3L1287.7,794.7L1287.9,796.2L1288.0,797.7L1288.1,799.2L1288.2,800.7L1288.3,802.2L1288.4,803.7L1288.6,805.2L1288.7,806.7L1288.8,808.2L1288.9,809.7L1289.1,811.1L1289.2,812.6L1289.3,814.1L1289.5,815.6L1289.6,817.1L1289.7,818.6L1289.9,820.1L1290.0,821.6L1290.1,823.1L1290.3,824.5L1290.4,826.0L1290.5,827.5L1290.7,829.0L1290.8,830.5L1291.0,832.0L1291.1,833.5L1291.2,834.9L1291.4,836.4L1291.5,837.9L1291.7,839.4L1291.8,840.9L1292.0,842.4L1292.1,843.8L1292.3,845.3L1292.4,846.8L1292.6,848.3L1292.8,849.8L1292.9,851.2L1293.1,852.7L1293.2,854.2L1293.4,855.7L1293.6,857.2L1293.7,858.6L1293.9,860.1L1294.1,861.6L1294.2,863.1L1294.4,864.5L1294.6,866.0L1294.7,867.5L1294.9,869.0L1295.1,870.4L1295.3,871.9L1295.5,873.4L1295.6,874.9L1295.8,876.3L1296.0,877.8L1296.2,879.3L1296.4,880.7L1296.6,882.2L1296.8,883.7L1297.0,885.2L1297.2,886.6L1297.4,888.1L1297.6,889.6L1297.8,891.0L1298.0,892.5L1298.2,894.0L1298.4,895.4L1298.6,896.9L1298.8,898.4L1299.1,899.8L1299.3,901.3L1299.5,902.8L1299.8,904.2L1300.0,905.7L1300.3,907.2L1300.5,908.6L1300.8,910.1L1301.1,911.5L1301.3,913.0L1301.6,914.5L1301.9,915.9L1302.2,917.4L1302.5,918.9L1302.8,920.3L1303.1,921.8L1303.4,923.3L1303.7,924.7L1304.0,926.2L1304.4,927.7L1304.7,929.1L1305.1,930.6L1305.4,932.1L1305.8,933.5L1306.1,935.0L1306.5,936.4L1306.9,937.9L1307.3,939.4L1307.7,940.8L1308.1,942.3L1308.5,943.8L1309.0,945.2L1309.4,946.7L1309.8,948.2L1310.3,949.6L1310.7,951.1L1311.2,952.6L1311.7,954.0L1312.2,955.5L1312.7,957.0L1313.2,958.4L1313.7,959.9L1314.3,961.4L1314.8,962.8L1315.4,964.3L1315.9,965.7L1316.5,967.1L1317.1,968.6L1317.7,970.0L1318.3,971.4L1319.0,972.8L1319.6,974.2L1320.3,975.6L1321.0,977.0L1321.6,978.4L1322.4,979.7L1323.1,981.0L1323.8,982.4L1324.6,983.7L1325.4,985.0L1326.1,986.2L1327.0,987.5L1327.8,988.7L1328.6,990.0L1329.5,991.2L1330.4,992.3L1331.3,993.5L1332.2,994.6L1333.2,995.7L1334.1,996.8L1335.1,997.9L1336.1,998.9L1337.1,999.9L1338.2,1000.9L1339.2,1001.9L1340.3,1002.9L1341.4,1003.8L1342.5,1004.7L1343.7,1005.6L1344.8,1006.5L1346.0,1007.3L1347.2,1008.2L1348.4,1009.0L1349.6,1009.8L1350.8,1010.6L1352.0,1011.3L1353.3,1012.1L1354.5,1012.8L1355.8,1013.6L1357.1,1014.3L1358.4,1015.0L1359.7,1015.7L1361.0,1016.3L1362.3,1017.0L1363.7,1017.7L1365.0,1018.3L1366.4,1018.9L1367.7,1019.6L1369.1,1020.2L1370.5,1020.8L1371.9,1021.4L1373.2,1022.0L1374.6,1022.6L1376.0,1023.2L1377.4,1023.8L1378.8,1024.4L1380.3,1025.0L1381.7,1025.6L1383.1,1026.1L1384.5,1026.7L1385.9,1027.3L1387.3,1027.9L1388.8,1028.4L1390.2,1029.0L1391.6,1029.6L1393.0,1030.2L1394.4,1030.8L1395.8,1031.3L1397.2,1031.9L1398.7,1032.5L1400.1,1033.1L1401.5,1033.7L1402.9,1034.4L1404.3,1035.0L1405.6,1035.6L1407.0,1036.2L1408.4,1036.9L1409.8,1037.5L1411.1,1038.2L1412.5,1038.9L1413.8,1039.6L1415.2,1040.3L1416.5,1041.0L1417.8,1041.7L1419.1,1042.4L1420.4,1043.2L1421.7,1043.9L1423.0,1044.7L1424.3,1045.5L1425.6,1046.3L1426.8,1047.1L1428.1,1047.9L1429.3,1048.7L1430.6,1049.5L1431.8,1050.4L1433.0,1051.2L1434.2,1052.1L1435.4,1052.9L1436.6,1053.8L1437.8,1054.7L1439.0,1055.6L1440.2,1056.5L1441.4,1057.4L1442.5,1058.3L1443.7,1059.3L1444.9,1060.2L1446.0,1061.2L1447.1,1062.1L1448.3,1063.1L1449.4,1064.0L1450.5,1065.0L1451.6,1066.0L1452.7,1067.0L1453.8,1068.0L1454.9,1069.0L1456.0,1070.0L1457.1,1071.1L1458.2,1072.1L1459.3,1073.1L1460.3,1074.2L1461.4,1075.2L1462.4,1076.3L1463.5,1077.3L1464.5,1078.4L1465.6,1079.5L1466.6,1080.6L1467.6,1081.7L1468.6,1082.8L1469.7,1083.9L1470.7,1085.0L1471.7,1086.1L1472.7,1087.2L1473.7,1088.3L1474.7,1089.4L1475.7,1090.6L1476.6,1091.7L1477.6,1092.8L1478.6,1094.0L1479.6,1095.1L1480.5,1096.3L1481.5,1097.4L1482.4,1098.6L1483.4,1099.7L1484.4,1100.9L1485.3,1102.1L1486.2,1103.2L1487.2,1104.4L1488.1,1105.6L1489.0,1106.8L1490.0,1107.9L1490.9,1109.1L1491.8,1110.3L1492.7,1111.5L1493.6,1112.7L1494.5,1113.9L1495.5,1115.1L1496.4,1116.3L1497.3,1117.5L1498.1,1118.7L1499.0,1119.9L1499.9,1121.1L1500.8,1122.3L1501.7,1123.5L1502.6,1124.8L1503.4,1126.0L1504.3,1127.2L1505.2,1128.4L1506.0,1129.6L1506.9,1130.9L1507.8,1132.1L1508.6,1133.3L1509.5,1134.6L1510.3,1135.8L1511.2,1137.1L1512.0,1138.3L1512.8,1139.5L1513.7,1140.8L1514.5,1142.0L1515.3,1143.3L1516.1,1144.5L1517.0,1145.8L1517.8,1147.1L1518.6,1148.3L1519.4,1149.6L1520.2,1150.8L1521.0,1152.1L1521.8,1153.4L1522.6,1154.7L1523.4,1155.9L1524.2,1157.2L1525.0,1158.5L1525.7,1159.8L1526.5,1161.0L1527.3,1162.3L1528.1,1163.6L1528.8,1164.9L1529.6,1166.2L1530.3,1167.5L1531.1,1168.8L1531.9,1170.1L1532.6,1171.4L1533.3,1172.7L1534.1,1174.0L1534.8,1175.3L1535.6,1176.6L1536.3,1177.9L1537.0,1179.2L1537.7,1180.5L1538.5,1181.8L1539.2,1183.1L1539.9,1184.5L1540.6,1185.8L1541.3,1187.1L1542.0,1188.4L1542.7,1189.8L1543.4,1191.1L1544.1,1192.4L1544.8,1193.7L1545.5,1195.1L1546.2,1196.4L1546.9,1197.7L1547.5,1199.1L1548.2,1200.4L1548.9,1201.8L1549.5,1203.1L1550.2,1204.5L1550.9,1205.8L1551.5,1207.1L1552.2,1208.5L1552.8,1209.8L1553.5,1211.2L1554.1,1212.6L1554.7,1213.9L1555.4,1215.3L1556.0,1216.6L1556.6,1218.0L1557.3,1219.4L1557.9,1220.7L1558.5,1222.1L1559.1,1223.5L1559.7,1224.8L1560.3,1226.2L1560.9,1227.6L1561.5,1229.0L1562.1,1230.3L1562.7,1231.7L1563.3,1233.1L1563.9,1234.5L1564.5,1235.9L1565.1,1237.2L1565.6,1238.6L1566.2,1240.0L1566.8,1241.4L1567.4,1242.8L1567.9,1244.2L1568.5,1245.6L1569.0,1247.0L1569.6,1248.4L1570.1,1249.8L1570.7,1251.1L1571.2,1252.5L1571.8,1253.9L1572.3,1255.3L1572.9,1256.7L1573.4,1258.2L1573.9,1259.6L1574.5,1261.0L1575.0,1262.4L1575.5,1263.8L1576.0,1265.2L1576.5,1266.6L1577.1,1268.0L1577.6,1269.4L1578.1,1270.8L1578.6,1272.2L1579.1,1273.6L1579.6,1275.0L1580.1,1276.5L1580.6,1277.9L1581.1,1279.3L1581.6,1280.7L1582.1,1282.1L1582.5,1283.5L1583.0,1285.0L1583.5,1286.4L1584.0,1287.8L1584.5,1289.2L1585.0,1290.6L1585.5,1292.0L1586.0,1293.4L1586.5,1294.8L1587.0,1296.2L1587.5,1297.6L1588.1,1299.0L1588.6,1300.4L1589.1,1301.8L1589.7,1303.2L1590.3,1304.6L1590.8,1305.9L1591.4,1307.3L1592.0,1308.7L1592.6,1310.0L1593.3,1311.4L1593.9,1312.7L1594.6,1314.1L1595.2,1315.4L1595.9,1316.7L1596.6,1318.0L1597.4,1319.3L1598.1,1320.6L1598.9,1321.9L1599.7,1323.2L1600.5,1324.5L1601.4,1325.7L1602.2,1327.0L1603.1,1328.2L1604.0,1329.4L1605.0,1330.7L1605.9,1331.9L1606.9,1333.0L1607.9,1334.2L1609.0,1335.4L1610.0,1336.5L1611.1,1337.6L1612.2,1338.7L1613.4,1339.8L1614.5,1340.8L1615.7,1341.9L1616.9,1342.8L1618.1,1343.8L1619.3,1344.7L1620.5,1345.6L1621.8,1346.5L1623.0,1347.3L1624.3,1348.1L1625.6,1348.8L1626.9,1349.5L1628.2,1350.2L1629.6,1350.8L1630.9,1351.4L1632.3,1351.9L1633.6,1352.4L1635.0,1352.8L1636.4,1353.2L1637.8,1353.5L1639.2,1353.8L1640.6,1354.0L1642.0,1354.1L1643.4,1354.2L1644.8,1354.2L1646.2,1354.2L1647.7,1354.1L1649.1,1354.0L1650.5,1353.8L1651.9,1353.6L1653.4,1353.4L1654.8,1353.1L1656.3,1352.8L1657.7,1352.5L1659.2,1352.1L1660.6,1351.7L1662.1,1351.3L1663.5,1350.9L1665.0,1350.5L1666.5,1350.1L1667.9,1349.7L1669.4,1349.3L1670.9,1348.8L1672.4,1348.4L1673.8,1348.0L1675.3,1347.6L1676.8,1347.2L1678.3,1346.8L1679.8,1346.4L1681.3,1346.1L1682.8,1345.7L1684.2,1345.3L1685.7,1345.0L1687.2,1344.6L1688.7,1344.3L1690.2,1343.9L1691.7,1343.6L1693.2,1343.3L1694.7,1343.0L1696.2,1342.6L1697.7,1342.3L1699.2,1342.1L1700.7,1341.8L1702.2,1341.5L1703.7,1341.2L1705.2,1341.0L1706.7,1340.7L1708.2,1340.5L1709.7,1340.3L1711.2,1340.1L1712.7,1339.9L1714.2,1339.7L1715.7,1339.5L1717.2,1339.3L1718.7,1339.1L1720.2,1339.0L1721.7,1338.9L1723.2,1338.7L1724.7,1338.6L1726.2,1338.5L1727.7,1338.4L1729.2,1338.4L1730.7,1338.3L1732.2,1338.3L1733.7,1338.2L1735.2,1338.2L1736.6,1338.2L1738.1,1338.2L1739.6,1338.2L1741.1,1338.3L1742.6,1338.3L1744.0,1338.4L1745.5,1338.4L1747.0,1338.5L1748.4,1338.7L1749.9,1338.8L1751.4,1338.9L1752.8,1339.1L1754.3,1339.3L1755.7,1339.5L1757.2,1339.7L1758.6,1339.9L1760.1,1340.1L1761.5,1340.4L1762.9,1340.7L1764.4,1341.0L1765.8,1341.3L1767.2,1341.6L1768.7,1342.0L1770.1,1342.3L1771.5,1342.7L1772.9,1343.1L1774.3,1343.5L1775.7,1343.9L1777.1,1344.3L1778.5,1344.8L1779.9,1345.3L1781.3,1345.7L1782.7,1346.2L1784.1,1346.7L1785.5,1347.2L1786.9,1347.8L1788.3,1348.3L1789.7,1348.8L1791.0,1349.4L1792.4,1350.0L1793.8,1350.6L1795.2,1351.2L1796.5,1351.8L1797.9,1352.4L1799.3,1353.0L1800.6,1353.6L1802.0,1354.3L1803.3,1354.9L1804.7,1355.6L1806.0,1356.3L1807.4,1356.9L1808.7,1357.6L1810.1,1358.3L1811.4,1359.0L1812.8,1359.7L1814.1,1360.4L1815.5,1361.1L1816.8,1361.9L1818.1,1362.6L1819.5,1363.3L1820.8,1364.1L1822.1,1364.8L1823.5,1365.6L1824.8,1366.3L1826.1,1367.1L1827.5,1367.8L1828.8,1368.6L1830.1,1369.4L1831.4,1370.1L1832.8,1370.9L1834.1,1371.7L1835.4,1372.5L1836.7,1373.3L1838.0,1374.0L1839.3,1374.8L1840.7,1375.6L1842.0,1376.4L1843.3,1377.2L1844.6,1378.0L1845.9,1378.7L1847.2,1379.5L1848.5,1380.3L1849.8,1381.1L1851.1,1381.9L1852.5,1382.7L1853.8,1383.4L1855.1,1384.2L1856.4,1385.0L1857.7,1385.8L1859.0,1386.5L1860.3,1387.3L1861.6,1388.0L1862.9,1388.8L1864.2,1389.6L1865.5,1390.3L1866.8,1391.0L1868.1,1391.8L1869.4,1392.5L1870.7,1393.2L1872.0,1394.0L1873.3,1394.7L1874.6,1395.4L1875.9,1396.1L1877.2,1396.8L1878.5,1397.5L1879.9,1398.1L1881.2,1398.8L1882.5,1399.5L1883.8,1400.1L1885.1,1400.7L1886.4,1401.4L1887.8,1402.0L1889.1,1402.6L1890.4,1403.2L1891.7,1403.8L1893.1,1404.3L1894.4,1404.9L1895.8,1405.4L1897.1,1405.9L1898.5,1406.4L1899.9,1406.9L1901.3,1407.4L1902.6,1407.9L1904.0,1408.3L1905.4,1408.7L1906.8,1409.1L1908.2,1409.5L1909.7,1409.9L1911.1,1410.2L1912.5,1410.5L1914.0,1410.8L1915.4,1411.1L1916.9,1411.4L1918.4,1411.6L1919.9,1411.8L1921.4,1412.0L1922.9,1412.2L1924.4,1412.3L1926.0,1412.5L1927.5,1412.6L1929.1,1412.6L1930.6,1412.7L1932.2,1412.7L1933.8,1412.7L1935.4,1412.6L1937.1,1412.6L1938.7,1412.5L1940.4,1412.4L1957.0,1412.8" stroke="#ef3a3c" />
<path d="M231.5,1412.6L1284.0,1412.6" stroke="#1a6fdf" stroke-linecap="butt" />
<path d="M1300.9,1412.4L1302.4,1412.5L1303.9,1412.5L1305.4,1412.4L1307.0,1412.4L1308.5,1412.3L1310.1,1412.2L1311.7,1412.0L1313.3,1411.8L1314.8,1411.5L1316.3,1411.1L1317.8,1410.7L1319.2,1410.2L1320.5,1409.6L1321.8,1408.9L1322.9,1408.1L1324.0,1407.2L1324.9,1406.3L1325.7,1405.2L1326.4,1404.0L1327.0,1402.7L1327.5,1401.5L1327.9,1400.1L1328.3,1398.8L1328.5,1397.4L1328.8,1395.9L1328.9,1394.5L1329.0,1393.0L1329.1,1391.5L1329.2,1390.0L1329.2,1388.5L1329.2,1387.0L1329.2,1385.4L1329.2,1383.9L1329.3,1382.4L1329.3,1380.9L1329.3,1379.4L1329.3,1377.8L1329.3,1376.3L1329.3,1374.8L1329.3,1373.3L1329.4,1371.8L1329.4,1370.2L1329.4,1368.7L1329.4,1367.2L1329.4,1365.7L1329.4,1364.2L1329.5,1362.7L1329.5,1361.1L1329.5,1359.6L1329.5,1358.1L1329.5,1356.6L1329.6,1355.1L1329.6,1353.6L1329.6,1352.0L1329.6,1350.5L1329.7,1349.0L1329.7,1347.5L1329.7,1346.0L1329.7,1344.5L1329.8,1343.0L1329.8,1341.5L1329.8,1340.0L1329.8,1338.4L1329.9,1336.9L1329.9,1335.4L1329.9,1333.9L1329.9,1332.4L1330.0,1330.9L1330.0,1329.4L1330.0,1327.9L1330.1,1326.4L1330.1,1324.9L1330.1,1323.4L1330.2,1321.8L1330.2,1320.3L1330.2,1318.8L1330.3,1317.3L1330.3,1315.8L1330.3,1314.3L1330.4,1312.8L1330.4,1311.3L1330.4,1309.8L1330.5,1308.3L1330.5,1306.8L1330.5,1305.3L1330.6,1303.8L1330.6,1302.3L1330.6,1300.8L1330.7,1299.3L1330.7,1297.8L1330.8,1296.3L1330.8,1294.8L1330.8,1293.3L1330.9,1291.8L1330.9,1290.3L1330.9,1288.8L1331.0,1287.3L1331.0,1285.8L1331.1,1284.3L1331.1,1282.8L1331.1,1281.3L1331.2,1279.8L1331.2,1278.3L1331.3,1276.8L1331.3,1275.3L1331.3,1273.8L1331.4,1272.3L1331.4,1270.8L1331.5,1269.3L1331.5,1267.8L1331.5,1266.3L1331.6,1264.8L1331.6,1263.3L1331.7,1261.8L1331.7,1260.3L1331.8,1258.8L1331.8,1257.3L1331.8,1255.8L1331.9,1254.3L1331.9,1252.8L1332.0,1251.3L1332.0,1249.8L1332.1,1248.3L1332.1,1246.8L1332.1,1245.3L1332.2,1243.8L1332.2,1242.3L1332.3,1240.8L1332.3,1239.3L1332.4,1237.8L1332.4,1236.3L1332.4,1234.8L1332.5,1233.3L1332.5,1231.8L1332.6,1230.3L1332.6,1228.8L1332.7,1227.3L1332.7,1225.8L1332.8,1224.3L1332.8,1222.8L1332.8,1221.4L1332.9,1219.9L1332.9,1218.4L1333.0,1216.9L1333.0,1215.4L1333.1,1213.9L1333.1,1212.4L1333.1,1210.9L1333.2,1209.4L1333.2,1207.9L1333.3,1206.4L1333.3,1204.9L1333.4,1203.4L1333.4,1201.9L1333.4,1200.4L1333.5,1198.9L1333.5,1197.4L1333.6,1195.9L1333.6,1194.4L1333.6,1192.9L1333.7,1191.4L1333.7,1189.9L1333.8,1188.4L1333.8,1186.9L1333.8,1185.5L1333.9,1184.0L1333.9,1182.5L1334.0,1181.0L1334.0,1179.5L1334.0,1178.0L1334.1,1176.5L1334.1,1175.0L1334.2,1173.5L1334.2,1172.0L1334.2,1170.5L1334.3,1169.0L1334.3,1167.5L1334.4,1166.0L1334.4,1164.5L1334.4,1163.0L1334.5,1161.5L1334.5,1160.0L1334.5,1158.5L1334.6,1157.0L1334.6,1155.5L1334.7,1154.0L1334.7,1152.5L1334.7,1151.0L1334.8,1149.5L1334.8,1148.0L1334.8,1146.5L1334.9,1145.0L1334.9,1143.6L1334.9,1142.1L1335.0,1140.6L1335.0,1139.1L1335.1,1137.6L1335.1,1136.1L1335.1,1134.6L1335.2,1133.1L1335.2,1131.6L1335.2,1130.1L1335.3,1128.6L1335.3,1127.1L1335.3,1125.6L1335.4,1124.1L1335.4,1122.6L1335.4,1121.1L1335.5,1119.6L1335.5,1118.1L1335.5,1116.6L1335.6,1115.1L1335.6,1113.6L1335.6,1112.1L1335.7,1110.6L1335.7,1109.1L1335.7,1107.6L1335.8,1106.1L1335.8,1104.6L1335.8,1103.1L1335.9,1101.6L1335.9,1100.1L1335.9,1098.6L1336.0,1097.1L1336.0,1095.6L1336.0,1094.1L1336.1,1092.6L1336.1,1091.1L1336.1,1089.6L1336.1,1088.1L1336.2,1086.6L1336.2,1085.1L1336.2,1083.6L1336.3,1082.2L1336.3,1080.7L1336.3,1079.2L1336.4,1077.7L1336.4,1076.2L1336.4,1074.7L1336.4,1073.2L1336.5,1071.7L1336.5,1070.2L1336.5,1068.7L1336.6,1067.2L1336.6,1065.7L1336.6,1064.2L1336.7,1062.7L1336.7,1061.2L1336.7,1059.7L1336.7,1058.2L1336.8,1056.7L1336.8,1055.2L1336.8,1053.7L1336.9,1052.2L1336.9,1050.7L1336.9,1049.2L1336.9,1047.7L1337.0,1046.2L1337.0,1044.7L1337.0,1043.2L1337.0,1041.7L1337.1,1040.2L1337.1,1038.7L1337.1,1037.2L1337.2,1035.7L1337.2,1034.2L1337.2,1032.7L1337.2,1031.2L1337.3,1029.7L1337.3,1028.2L1337.3,1026.7L1337.3,1025.2L1337.4,1023.7L1337.4,1022.2L1337.4,1020.7L1337.4,1019.2L1337.5,1017.7L1337.5,1016.2L1337.5,1014.7L1337.5,1013.2L1337.6,1011.7L1337.6,1010.2L1337.6,1008.7L1337.6,1007.2L1337.7,1005.7L1337.7,1004.2L1337.7,1002.7L1337.7,1001.2L1337.8,999.7L1337.8,998.2L1337.8,996.7L1337.8,995.2L1337.9,993.7L1337.9,992.2L1337.9,990.7L1337.9,989.2L1338.0,987.7L1338.0,986.2L1338.0,984.7L1338.0,983.2L1338.1,981.7L1338.1,980.2L1338.1,978.7L1338.1,977.2L1338.2,975.7L1338.2,974.2L1338.2,972.7L1338.2,971.2L1338.2,969.7L1338.3,968.2L1338.3,966.7L1338.3,965.2L1338.3,963.7L1338.4,962.2L1338.4,960.7L1338.4,959.2L1338.4,957.7L1338.4,956.2L1338.5,954.7L1338.5,953.2L1338.5,951.7L1338.5,950.2L1338.6,948.7L1338.6,947.2L1338.6,945.7L1338.6,944.2L1338.6,942.7L1338.7,941.2L1338.7,939.7L1338.7,938.2L1338.7,936.7L1338.7,935.2L1338.8,933.7L1338.8,932.2L1338.8,930.7L1338.8,929.2L1338.9,927.7L1338.9,926.2L1338.9,924.7L1338.9,923.2L1338.9,921.7L1339.0,920.2L1339.0,918.7L1339.0,917.2L1339.0,915.7L1339.0,914.2L1339.1,912.7L1339.1,911.2L1339.1,909.7L1339.1,908.2L1339.1,906.7L1339.2,905.2L1339.2,903.7L1339.2,902.2L1339.2,900.7L1339.2,899.2L1339.3,897.7L1339.3,896.2L1339.3,894.7L1339.3,893.2L1339.3,891.7L1339.4,890.2L1339.4,888.7L1339.4,887.2L1339.4,885.7L1339.4,884.2L1339.5,882.7L1339.5,881.2L1339.5,879.7L1339.5,878.2L1339.5,876.7L1339.5,875.2L1339.6,873.7L1339.6,872.2L1339.6,870.7L1339.6,869.2L1339.6,867.7L1339.7,866.2L1339.7,864.7L1339.7,863.2L1339.7,861.7L1339.7,860.2L1339.8,858.7L1339.8,857.2L1339.8,855.7L1339.8,854.2L1339.8,852.7L1339.8,851.2L1339.9,849.7L1339.9,848.2L1339.9,846.7L1339.9,845.2L1339.9,843.7L1340.0,842.2L1340.0,840.7L1340.0,839.2L1340.0,837.7L1340.0,836.2L1340.0,834.7L1340.1,833.2L1340.1,831.7L1340.1,830.2L1340.1,828.7L1340.1,827.2L1340.2,825.7L1340.2,824.2L1340.2,822.7L1340.2,821.2L1340.2,819.7L1340.2,818.2L1340.3,816.7L1340.3,815.2L1340.3,813.7L1340.3,812.2L1340.3,810.7L1340.3,809.2L1340.4,807.7L1340.4,806.2L1340.4,804.7L1340.4,803.2L1340.4,801.7L1340.5,800.2L1340.5,798.7L1340.5,797.2L1340.5,795.7L1340.5,794.2L1340.5,792.7L1340.6,791.2L1340.6,789.7L1340.6,788.2L1340.6,786.7L1340.6,785.2L1340.6,783.7L1340.7,782.2L1340.7,780.7L1340.7,779.2L1340.7,777.7L1340.7,776.2L1340.8,774.7L1340.8,773.2L1340.8,771.7L1340.8,770.2L1340.8,768.7L1340.8,767.2L1340.9,765.7L1340.9,764.2L1340.9,762.7L1340.9,761.2L1340.9,759.7L1340.9,758.2L1341.0,756.7L1341.0,755.2L1341.0,753.7L1341.0,752.2L1341.0,750.7L1341.0,749.2L1341.1,747.7L1341.1,746.2L1341.1,744.7L1341.1,743.2L1341.1,741.7L1341.2,740.2L1341.2,738.7L1341.2,737.2L1341.2,735.7L1341.2,734.2L1341.2,732.7L1341.3,731.2L1341.3,729.7L1341.3,728.2L1341.3,726.7L1341.3,725.2L1341.3,723.7L1341.4,722.2L1341.4,720.7L1341.4,719.2L1341.4,717.7L1341.4,716.2L1341.5,714.7L1341.5,713.2L1341.5,711.7L1341.5,710.2L1341.5,708.7L1341.5,707.2L1341.6,705.7L1341.6,704.2L1341.6,702.7L1341.6,701.2L1341.6,699.7L1341.6,698.2L1341.7,696.7L1341.7,695.2L1341.7,693.7L1341.7,692.2L1341.7,690.7L1341.8,689.2L1341.8,687.7L1341.8,686.2L1341.8,684.7L1341.8,683.2L1341.8,681.7L1341.9,680.2L1341.9,678.7L1341.9,677.2L1341.9,675.7L1341.9,674.2L1342.0,672.7L1342.0,671.2L1342.0,669.7L1342.0,668.2L1342.0,666.7L1342.1,665.2L1342.1,663.7L1342.1,662.2L1342.1,660.7L1342.1,659.2L1342.1,657.7L1342.2,656.2L1342.2,654.7L1342.2,653.2L1342.2,651.7L1342.2,650.2L1342.3,648.7L1342.3,647.2L1342.3,645.7L1342.3,644.2L1342.3,642.7L1342.4,641.2L1342.4,639.7L1342.4,638.2L1342.4,636.7L1342.4,635.2L1342.5,633.7L1342.5,632.2L1342.5,630.7L1342.5,629.2L1342.5,627.7L1342.6,626.2L1342.6,624.7L1342.6,623.2L1342.6,621.7L1342.6,620.2L1342.7,618.7L1342.7,617.2L1342.7,615.7L1342.7,614.2L1342.7,612.7L1342.8,611.2L1342.8,609.7L1342.8,608.2L1342.8,606.7L1342.8,605.2L1342.9,603.7L1342.9,602.2L1342.9,600.7L1342.9,599.2L1342.9,597.7L1343.0,596.2L1343.0,594.7L1343.0,593.2L1343.0,591.7L1343.1,590.2L1343.1,588.7L1343.1,587.2L1343.1,585.7L1343.1,584.2L1343.2,582.7L1343.2,581.2L1343.2,579.7L1343.2,578.2L1343.2,576.7L1343.3,575.2L1343.3,573.7L1343.3,572.2L1343.3,570.7L1343.4,569.2L1343.4,567.7L1343.4,566.2L1343.4,564.7L1343.4,563.2L1343.5,561.7L1343.5,560.2L1343.5,558.7L1343.5,557.2L1343.6,555.7L1343.6,554.2L1343.6,552.8L1343.6,551.3L1343.7,549.8L1343.7,548.3L1343.7,546.8L1343.7,545.3L1343.8,543.8L1343.8,542.3L1343.8,540.8L1343.8,539.3L1343.8,537.8L1343.9,536.3L1343.9,534.8L1343.9,533.3L1343.9,531.8L1344.0,530.3L1344.0,528.8L1344.0,527.3L1344.0,525.8L1344.1,524.3L1344.1,522.8L1344.1,521.3L1344.1,519.8L1344.2,518.3L1344.2,516.8L1344.2,515.3L1344.2,513.8L1344.3,512.3L1344.3,510.8L1344.3,509.3L1344.3,507.8L1344.4,506.3L1344.4,504.8L1344.4,503.3L1344.5,501.8L1344.5,500.3L1344.5,498.8L1344.5,497.3L1344.6,495.8L1344.6,494.3L1344.6,492.8L1344.6,491.3L1344.7,489.8L1344.7,488.3L1344.7,486.9L1344.8,485.4L1344.8,483.9L1344.8,482.4L1344.8,480.9L1344.9,479.4L1344.9,477.9L1344.9,476.4L1344.9,474.9L1345.0,473.4L1345.0,471.9L1345.0,470.4L1345.1,468.9L1345.1,467.4L1345.1,465.9L1345.1,464.4L1345.2,462.9L1345.2,461.4L1345.2,459.9L1345.3,458.4L1345.3,456.9L1345.3,455.4L1345.4,453.9L1345.4,452.4L1345.4,450.9L1345.4,449.4L1345.5,447.9L1345.5,446.4L1345.5,444.9L1345.6,443.5L1345.6,442.0L1345.6,440.5L1345.7,439.0L1345.7,437.5L1345.7,436.0L1345.8,434.5L1345.8,433.0L1345.8,431.5L1345.9,430.0L1345.9,428.5L1345.9,427.0L1345.9,425.5L1346.0,424.0L1346.0,422.5L1346.0,421.0L1346.1,419.5L1346.1,418.0L1346.1,416.5L1346.2,415.0L1346.2,413.5L1346.2,412.0L1346.3,410.5L1346.3,409.0L1346.3,407.5L1346.4,406.0L1346.4,404.5L1346.4,403.1L1346.5,401.6L1346.5,400.1L1346.5,398.6L1346.6,397.1L1346.6,395.6L1346.6,394.1L1346.7,392.6L1346.7,391.1L1346.7,389.6L1346.8,388.1L1346.8,386.6L1346.9,385.1L1346.9,383.6L1346.9,382.1L1347.0,380.6L1347.0,379.1L1347.0,377.6L1347.1,376.1L1347.1,374.6L1347.1,373.1L1347.2,371.6L1347.2,370.1L1347.2,368.6L1347.3,367.1L1347.3,365.6L1347.3,364.1L1347.4,362.6L1347.4,361.1L1347.4,359.6L1347.5,358.1L1347.5,356.6L1347.6,355.1L1347.6,353.6L1347.6,352.1L1347.7,350.6L1347.7,349.1L1347.7,347.6L1347.8,346.1L1347.8,344.6L1347.8,343.0L1347.9,341.5L1347.9,340.0L1347.9,338.5L1348.0,337.0L1348.0,335.5L1348.1,334.0L1348.1,332.5L1348.1,331.0L1348.2,329.5L1348.2,328.0L1348.2,326.5L1348.3,325.0L1348.3,323.5L1348.3,322.0L1348.4,320.5L1348.4,318.9L1348.4,317.4L1348.5,315.9L1348.5,314.4L1348.6,312.9L1348.6,311.4L1348.6,309.9L1348.7,308.4L1348.7,306.9L1348.7,305.3L1348.8,303.8L1348.8,302.3L1348.8,300.8L1348.9,299.3L1348.9,297.8L1349.0,296.3L1349.0,294.8L1349.0,293.2L1349.1,291.7L1349.1,290.2L1349.1,288.7L1349.2,287.2L1349.2,285.7L1349.2,284.1L1349.3,282.6L1349.3,281.1L1349.3,279.6L1349.4,278.1L1349.4,276.5L1349.5,275.0L1349.5,273.5L1349.5,272.0L1349.6,270.5L1349.6,269.0L1349.6,267.4L1349.7,265.9L1349.7,264.4L1349.7,262.9L1349.8,261.4L1349.8,259.9L1349.8,258.4L1349.9,256.9L1349.9,255.4L1349.9,253.9L1350.0,252.4L1350.0,250.9L1350.0,249.5L1350.0,248.0L1350.1,246.5L1350.1,245.1L1350.1,243.6L1350.1,242.2L1350.2,240.7L1350.2,239.3L1350.2,237.8L1350.2,236.4L1350.3,235.0L1350.3,233.6L1350.3,232.2L1350.3,230.8L1350.3,229.4L1350.4,228.0L1350.4,226.6L1350.4,225.3L1350.4,223.9L1350.4,222.5L1350.4,221.1L1350.5,219.7L1350.5,218.3L1350.5,216.9L1350.6,215.5L1350.6,214.1L1350.6,212.6L1350.7,211.1L1350.8,209.6L1350.8,208.1L1350.9,206.5L1351.0,205.0L1351.1,203.3L1351.2,201.7L1351.3,200.0L1351.4,198.2L1351.6,196.5L1351.7,194.7L1351.9,192.8L1352.0,190.9L1352.2,188.9L1352.4,187.0L1352.6,185.0L1352.9,183.2L1353.1,181.4L1353.3,179.7L1353.6,178.2L1353.9,176.9L1354.1,175.9L1354.4,175.1L1354.7,174.5L1355.0,174.3L1355.2,174.5L1355.5,175.0L1355.8,175.8L1356.1,176.9L1356.4,178.2L1356.7,179.6L1356.9,181.3L1357.2,183.0L1357.5,184.9L1357.7,186.8L1357.9,188.7L1358.1,190.5L1358.3,192.4L1358.5,194.1L1358.7,195.9L1358.8,197.6L1359.0,199.3L1359.1,201.0L1359.2,202.6L1359.3,204.2L1359.4,205.8L1359.5,207.3L1359.5,208.9L1359.6,210.4L1359.7,211.9L1359.7,213.4L1359.8,214.8L1359.8,216.3L1359.8,217.7L1359.8,219.1L1359.9,220.6L1359.9,222.0L1359.9,223.4L1359.9,224.8L1359.9,226.2L1359.9,227.6L1360.0,229.0L1360.0,230.4L1360.0,231.8L1360.0,233.2L1360.0,234.7L1360.0,236.1L1360.1,237.5L1360.1,239.0L1360.1,240.4L1360.1,241.9L1360.2,243.3L1360.2,244.8L1360.2,246.2L1360.3,247.7L1360.3,249.2L1360.3,250.6L1360.4,252.1L1360.4,253.6L1360.4,255.1L1360.5,256.6L1360.5,258.1L1360.6,259.5L1360.6,261.0L1360.6,262.5L1360.7,264.0L1360.7,265.5L1360.8,267.0L1360.8,268.5L1360.8,270.0L1360.9,271.5L1360.9,273.0L1361.0,274.5L1361.0,276.0L1361.1,277.5L1361.1,279.0L1361.2,280.5L1361.2,282.1L1361.2,283.6L1361.3,285.1L1361.3,286.6L1361.4,288.1L1361.4,289.6L1361.5,291.1L1361.5,292.6L1361.5,294.1L1361.6,295.6L1361.6,297.1L1361.7,298.6L1361.7,300.1L1361.8,301.6L1361.8,303.1L1361.8,304.6L1361.9,306.1L1361.9,307.6L1362.0,309.1L1362.0,310.6L1362.0,312.1L1362.1,313.6L1362.1,315.2L1362.2,316.7L1362.2,318.2L1362.3,319.7L1362.3,321.2L1362.3,322.7L1362.4,324.2L1362.4,325.7L1362.5,327.2L1362.5,328.7L1362.5,330.2L1362.6,331.7L1362.6,333.2L1362.7,334.7L1362.7,336.2L1362.7,337.7L1362.8,339.2L1362.8,340.7L1362.9,342.2L1362.9,343.7L1362.9,345.2L1363.0,346.7L1363.0,348.2L1363.1,349.7L1363.1,351.2L1363.1,352.7L1363.2,354.2L1363.2,355.7L1363.3,357.2L1363.3,358.7L1363.3,360.2L1363.4,361.7L1363.4,363.2L1363.4,364.8L1363.5,366.3L1363.5,367.8L1363.6,369.3L1363.6,370.8L1363.6,372.3L1363.7,373.8L1363.7,375.3L1363.8,376.8L1363.8,378.3L1363.8,379.8L1363.9,381.3L1363.9,382.8L1363.9,384.3L1364.0,385.8L1364.0,387.3L1364.1,388.8L1364.1,390.3L1364.1,391.8L1364.2,393.3L1364.2,394.8L1364.2,396.3L1364.3,397.8L1364.3,399.3L1364.4,400.8L1364.4,402.3L1364.4,403.8L1364.5,405.3L1364.5,406.8L1364.5,408.3L1364.6,409.8L1364.6,411.3L1364.7,412.8L1364.7,414.3L1364.7,415.8L1364.8,417.3L1364.8,418.8L1364.8,420.3L1364.9,421.8L1364.9,423.3L1364.9,424.8L1365.0,426.3L1365.0,427.8L1365.0,429.3L1365.1,430.8L1365.1,432.3L1365.2,433.8L1365.2,435.3L1365.2,436.8L1365.3,438.3L1365.3,439.8L1365.3,441.3L1365.4,442.8L1365.4,444.3L1365.4,445.8L1365.5,447.3L1365.5,448.8L1365.5,450.3L1365.6,451.8L1365.6,453.3L1365.6,454.8L1365.7,456.3L1365.7,457.8L1365.8,459.3L1365.8,460.8L1365.8,462.3L1365.9,463.8L1365.9,465.3L1365.9,466.8L1366.0,468.3L1366.0,469.8L1366.0,471.3L1366.1,472.8L1366.1,474.3L1366.1,475.8L1366.2,477.3L1366.2,478.8L1366.2,480.3L1366.3,481.8L1366.3,483.3L1366.3,484.8L1366.4,486.3L1366.4,487.8L1366.4,489.3L1366.5,490.8L1366.5,492.3L1366.5,493.8L1366.6,495.3L1366.6,496.8L1366.6,498.3L1366.7,499.8L1366.7,501.3L1366.7,502.8L1366.8,504.3L1366.8,505.8L1366.8,507.3L1366.9,508.8L1366.9,510.3L1366.9,511.8L1367.0,513.3L1367.0,514.8L1367.0,516.3L1367.1,517.8L1367.1,519.3L1367.1,520.8L1367.2,522.3L1367.2,523.8L1367.2,525.3L1367.3,526.8L1367.3,528.3L1367.3,529.8L1367.4,531.3L1367.4,532.8L1367.4,534.3L1367.4,535.8L1367.5,537.3L1367.5,538.8L1367.5,540.3L1367.6,541.8L1367.6,543.3L1367.6,544.8L1367.7,546.3L1367.7,547.8L1367.7,549.3L1367.8,550.8L1367.8,552.3L1367.8,553.8L1367.9,555.3L1367.9,556.8L1367.9,558.3L1368.0,559.8L1368.0,561.3L1368.0,562.8L1368.1,564.3L1368.1,565.8L1368.1,567.3L1368.1,568.8L1368.2,570.3L1368.2,571.8L1368.2,573.3L1368.3,574.7L1368.3,576.2L1368.3,577.7L1368.4,579.2L1368.4,580.7L1368.4,582.2L1368.5,583.7L1368.5,585.2L1368.5,586.7L1368.6,588.2L1368.6,589.7L1368.6,591.2L1368.6,592.7L1368.7,594.2L1368.7,595.7L1368.7,597.2L1368.8,598.7L1368.8,600.2L1368.8,601.7L1368.9,603.2L1368.9,604.7L1368.9,606.2L1369.0,607.7L1369.0,609.2L1369.0,610.7L1369.0,612.2L1369.1,613.7L1369.1,615.2L1369.1,616.7L1369.2,618.2L1369.2,619.7L1369.2,621.2L1369.3,622.7L1369.3,624.2L1369.3,625.7L1369.4,627.2L1369.4,628.7L1369.4,630.2L1369.4,631.7L1369.5,633.2L1369.5,634.7L1369.5,636.2L1369.6,637.7L1369.6,639.2L1369.6,640.7L1369.7,642.2L1369.7,643.7L1369.7,645.2L1369.7,646.7L1369.8,648.2L1369.8,649.7L1369.8,651.1L1369.9,652.6L1369.9,654.1L1369.9,655.6L1370.0,657.1L1370.0,658.6L1370.0,660.1L1370.0,661.6L1370.1,663.1L1370.1,664.6L1370.1,666.1L1370.2,667.6L1370.2,669.1L1370.2,670.6L1370.3,672.1L1370.3,673.6L1370.3,675.1L1370.3,676.6L1370.4,678.1L1370.4,679.6L1370.4,681.1L1370.5,682.6L1370.5,684.1L1370.5,685.6L1370.6,687.1L1370.6,688.6L1370.6,690.1L1370.6,691.6L1370.7,693.1L1370.7,694.6L1370.7,696.1L1370.8,697.6L1370.8,699.1L1370.8,700.6L1370.9,702.1L1370.9,703.6L1370.9,705.1L1370.9,706.6L1371.0,708.1L1371.0,709.6L1371.0,711.1L1371.1,712.6L1371.1,714.1L1371.1,715.6L1371.2,717.1L1371.2,718.6L1371.2,720.1L1371.2,721.6L1371.3,723.0L1371.3,724.5L1371.3,726.0L1371.4,727.5L1371.4,729.0L1371.4,730.5L1371.5,732.0L1371.5,733.5L1371.5,735.0L1371.5,736.5L1371.6,738.0L1371.6,739.5L1371.6,741.0L1371.7,742.5L1371.7,744.0L1371.7,745.5L1371.8,747.0L1371.8,748.5L1371.8,750.0L1371.8,751.5L1371.9,753.0L1371.9,754.5L1371.9,756.0L1372.0,757.5L1372.0,759.0L1372.0,760.5L1372.1,762.0L1372.1,763.5L1372.1,765.0L1372.1,766.5L1372.2,768.0L1372.2,769.5L1372.2,771.0L1372.3,772.5L1372.3,774.0L1372.3,775.5L1372.4,777.0L1372.4,778.5L1372.4,780.0L1372.4,781.5L1372.5,783.0L1372.5,784.5L1372.5,786.0L1372.6,787.5L1372.6,789.0L1372.6,790.5L1372.7,792.0L1372.7,793.5L1372.7,795.0L1372.7,796.5L1372.8,798.0L1372.8,799.5L1372.8,801.0L1372.9,802.5L1372.9,804.0L1372.9,805.5L1373.0,807.0L1373.0,808.5L1373.0,810.0L1373.1,811.4L1373.1,812.9L1373.1,814.4L1373.1,815.9L1373.2,817.4L1373.2,818.9L1373.2,820.4L1373.3,821.9L1373.3,823.4L1373.3,824.9L1373.4,826.4L1373.4,827.9L1373.4,829.4L1373.4,830.9L1373.5,832.4L1373.5,833.9L1373.5,835.4L1373.6,836.9L1373.6,838.4L1373.6,839.9L1373.7,841.4L1373.7,842.9L1373.7,844.4L1373.8,845.9L1373.8,847.4L1373.8,848.9L1373.9,850.4L1373.9,851.9L1373.9,853.4L1373.9,854.9L1374.0,856.4L1374.0,857.9L1374.0,859.4L1374.1,860.9L1374.1,862.4L1374.1,863.9L1374.2,865.4L1374.2,866.9L1374.2,868.4L1374.3,869.9L1374.3,871.4L1374.3,872.9L1374.4,874.4L1374.4,875.9L1374.4,877.4L1374.4,878.9L1374.5,880.4L1374.5,881.9L1374.5,883.4L1374.6,884.9L1374.6,886.4L1374.6,887.9L1374.7,889.4L1374.7,890.9L1374.7,892.4L1374.8,893.9L1374.8,895.4L1374.8,896.9L1374.9,898.4L1374.9,899.9L1374.9,901.4L1375.0,902.9L1375.0,904.4L1375.0,905.9L1375.1,907.4L1375.1,908.9L1375.1,910.4L1375.2,911.9L1375.2,913.4L1375.2,914.9L1375.3,916.4L1375.3,917.9L1375.3,919.4L1375.4,920.9L1375.4,922.4L1375.4,923.9L1375.5,925.4L1375.5,926.9L1375.5,928.4L1375.6,929.9L1375.6,931.4L1375.6,932.9L1375.7,934.4L1375.7,935.9L1375.7,937.4L1375.8,938.9L1375.8,940.4L1375.8,941.9L1375.9,943.4L1375.9,944.9L1375.9,946.4L1376.0,947.9L1376.0,949.4L1376.0,950.9L1376.1,952.4L1376.1,953.9L1376.1,955.5L1376.2,957.0L1376.2,958.5L1376.2,960.0L1376.3,961.5L1376.3,963.0L1376.3,964.5L1376.4,966.0L1376.4,967.5L1376.4,969.0L1376.5,970.5L1376.5,972.0L1376.5,973.5L1376.6,975.0L1376.6,976.5L1376.6,978.0L1376.7,979.5L1376.7,981.0L1376.7,982.5L1376.8,984.0L1376.8,985.5L1376.8,987.0L1376.9,988.5L1376.9,990.0L1377.0,991.5L1377.0,993.0L1377.0,994.5L1377.1,996.0L1377.1,997.5L1377.1,999.0L1377.2,1000.5L1377.2,1002.0L1377.2,1003.5L1377.3,1005.0L1377.3,1006.5L1377.3,1008.0L1377.4,1009.5L1377.4,1011.0L1377.5,1012.5L1377.5,1014.0L1377.6,1015.5L1377.6,1017.0L1377.7,1018.5L1377.7,1020.0L1377.8,1021.5L1377.8,1023.0L1377.9,1024.5L1377.9,1026.0L1378.0,1027.5L1378.1,1029.0L1378.1,1030.5L1378.2,1032.0L1378.3,1033.5L1378.4,1035.0L1378.5,1036.5L1378.5,1038.0L1378.6,1039.5L1378.7,1041.0L1378.8,1042.5L1378.9,1044.0L1379.1,1045.5L1379.2,1047.0L1379.3,1048.5L1379.4,1050.0L1379.6,1051.5L1379.7,1052.9L1379.8,1054.4L1380.0,1055.9L1380.1,1057.4L1380.3,1058.9L1380.5,1060.4L1380.6,1061.9L1380.8,1063.3L1381.0,1064.8L1381.2,1066.3L1381.4,1067.8L1381.6,1069.3L1381.9,1070.7L1382.1,1072.2L1382.3,1073.7L1382.6,1075.2L1382.8,1076.6L1383.1,1078.1L1383.3,1079.6L1383.6,1081.0L1383.9,1082.5L1384.2,1084.0L1384.5,1085.4L1384.8,1086.9L1385.1,1088.4L1385.5,1089.8L1385.8,1091.3L1386.2,1092.7L1386.5,1094.2L1386.9,1095.6L1387.3,1097.1L1387.7,1098.5L1388.1,1100.0L1388.5,1101.4L1388.9,1102.9L1389.3,1104.3L1389.8,1105.7L1390.2,1107.1L1390.7,1108.6L1391.2,1110.0L1391.7,1111.4L1392.2,1112.8L1392.7,1114.2L1393.2,1115.6L1393.7,1117.0L1394.3,1118.4L1394.9,1119.8L1395.4,1121.2L1396.0,1122.6L1396.6,1124.0L1397.2,1125.3L1397.8,1126.7L1398.4,1128.1L1399.0,1129.5L1399.6,1130.8L1400.2,1132.2L1400.7,1133.6L1401.3,1135.0L1401.8,1136.4L1402.4,1137.8L1402.9,1139.2L1403.4,1140.7L1403.9,1142.1L1404.3,1143.6L1404.8,1145.0L1405.3,1146.5L1405.7,1147.9L1406.3,1149.3L1406.8,1150.7L1407.4,1152.1L1408.0,1153.4L1408.6,1154.7L1409.4,1156.0L1410.2,1157.2L1411.0,1158.3L1412.0,1159.4L1413.0,1160.5L1414.1,1161.5L1415.2,1162.5L1416.4,1163.4L1417.6,1164.4L1418.8,1165.3L1419.9,1166.3L1421.1,1167.3L1422.1,1168.3L1423.2,1169.4L1424.2,1170.5L1425.1,1171.6L1426.0,1172.8L1426.8,1174.0L1427.6,1175.2L1428.4,1176.5L1429.1,1177.8L1429.8,1179.1L1430.5,1180.5L1431.1,1181.8L1431.8,1183.2L1432.4,1184.6L1433.0,1186.0L1433.6,1187.4L1434.2,1188.8L1434.8,1190.2L1435.4,1191.6L1436.0,1192.9L1436.6,1194.3L1437.3,1195.7L1437.9,1197.1L1438.5,1198.4L1439.2,1199.8L1439.8,1201.2L1440.5,1202.5L1441.1,1203.9L1441.8,1205.2L1442.4,1206.6L1443.1,1207.9L1443.7,1209.2L1444.4,1210.6L1445.1,1211.9L1445.7,1213.3L1446.4,1214.6L1447.1,1215.9L1447.7,1217.2L1448.4,1218.6L1449.1,1219.9L1449.8,1221.2L1450.4,1222.6L1451.1,1223.9L1451.8,1225.2L1452.4,1226.5L1453.1,1227.9L1453.8,1229.2L1454.4,1230.5L1455.1,1231.9L1455.7,1233.2L1456.4,1234.5L1457.0,1235.9L1457.7,1237.2L1458.3,1238.6L1459.0,1239.9L1459.6,1241.3L1460.2,1242.6L1460.9,1244.0L1461.5,1245.4L1462.1,1246.7L1462.7,1248.1L1463.3,1249.5L1463.9,1250.9L1464.5,1252.2L1465.1,1253.6L1465.7,1255.0L1466.2,1256.4L1466.8,1257.8L1467.4,1259.2L1468.0,1260.6L1468.6,1262.0L1469.1,1263.4L1469.7,1264.8L1470.3,1266.2L1470.9,1267.6L1471.4,1269.0L1472.0,1270.4L1472.6,1271.8L1473.2,1273.2L1473.7,1274.6L1474.3,1276.0L1474.9,1277.4L1475.5,1278.8L1476.1,1280.1L1476.6,1281.5L1477.2,1282.9L1477.8,1284.3L1478.4,1285.7L1479.0,1287.1L1479.6,1288.5L1480.2,1289.8L1480.9,1291.2L1481.5,1292.6L1482.1,1293.9L1482.7,1295.3L1483.4,1296.7L1484.0,1298.0L1484.7,1299.4L1485.3,1300.7L1486.0,1302.1L1486.7,1303.4L1487.4,1304.7L1488.1,1306.0L1488.8,1307.3L1489.5,1308.7L1490.2,1310.0L1490.9,1311.2L1491.7,1312.5L1492.4,1313.8L1493.2,1315.1L1494.0,1316.4L1494.8,1317.6L1495.6,1318.9L1496.4,1320.1L1497.2,1321.3L1498.0,1322.6L1498.9,1323.8L1499.7,1325.0L1500.6,1326.2L1501.5,1327.4L1502.4,1328.5L1503.3,1329.7L1504.3,1330.9L1505.2,1332.0L1506.1,1333.1L1507.1,1334.3L1508.1,1335.4L1509.1,1336.5L1510.1,1337.6L1511.1,1338.7L1512.1,1339.8L1513.1,1340.9L1514.2,1342.0L1515.2,1343.0L1516.3,1344.1L1517.4,1345.1L1518.5,1346.2L1519.5,1347.2L1520.6,1348.2L1521.8,1349.2L1522.9,1350.3L1524.0,1351.3L1525.1,1352.3L1526.3,1353.2L1527.4,1354.2L1528.6,1355.2L1529.7,1356.2L1530.9,1357.1L1532.1,1358.1L1533.3,1359.0L1534.4,1360.0L1535.6,1360.9L1536.8,1361.8L1538.0,1362.8L1539.2,1363.7L1540.5,1364.6L1541.7,1365.5L1542.9,1366.4L1544.1,1367.3L1545.3,1368.2L1546.6,1369.1L1547.8,1369.9L1549.1,1370.8L1550.3,1371.7L1551.5,1372.6L1552.8,1373.4L1554.0,1374.3L1555.3,1375.1L1556.5,1376.0L1557.8,1376.8L1559.0,1377.6L1560.3,1378.4L1561.6,1379.3L1562.8,1380.1L1564.1,1380.9L1565.4,1381.7L1566.7,1382.4L1568.0,1383.2L1569.2,1384.0L1570.5,1384.8L1571.8,1385.5L1573.1,1386.3L1574.4,1387.0L1575.7,1387.7L1577.0,1388.4L1578.3,1389.2L1579.7,1389.9L1581.0,1390.6L1582.3,1391.2L1583.6,1391.9L1585.0,1392.6L1586.3,1393.2L1587.6,1393.9L1589.0,1394.5L1590.3,1395.1L1591.7,1395.7L1593.1,1396.3L1594.4,1396.9L1595.8,1397.5L1597.2,1398.0L1598.5,1398.6L1599.9,1399.1L1601.3,1399.6L1602.7,1400.1L1604.1,1400.6L1605.5,1401.1L1606.9,1401.6L1608.3,1402.1L1609.8,1402.5L1611.2,1402.9L1612.6,1403.3L1614.1,1403.7L1615.5,1404.1L1617.0,1404.5L1618.4,1404.9L1619.9,1405.2L1621.3,1405.6L1622.8,1405.9L1624.3,1406.2L1625.7,1406.5L1627.2,1406.8L1628.7,1407.1L1630.2,1407.3L1631.7,1407.6L1633.1,1407.9L1634.6,1408.1L1636.1,1408.3L1637.6,1408.6L1639.1,1408.8L1640.6,1409.0L1642.1,1409.2L1643.6,1409.4L1645.1,1409.5L1646.6,1409.7L1648.1,1409.9L1649.7,1410.0L1651.2,1410.2L1652.7,1410.3L1654.2,1410.5L1655.7,1410.6L1657.2,1410.7L1658.7,1410.8L1660.2,1411.0L1661.7,1411.1L1663.2,1411.2L1664.7,1411.3L1666.2,1411.4L1667.7,1411.5L1669.2,1411.6L1670.7,1411.6L1672.2,1411.7L1673.7,1411.8L1675.2,1411.9L1676.7,1411.9L1678.2,1412.0L1679.7,1412.1L1681.2,1412.1L1682.6,1412.2L1684.1,1412.3L1685.6,1412.3L1687.0,1412.4L1688.5,1412.5L1690.0,1412.5L1737.8,1412.6" stroke="#1a6fdf" />
<path d="M1350.3,230 L1351,210 L1352,192 L1353.3,180 L1355,174 L1356.8,180 L1358,190 L1359.2,210 L1360,230 L1360.7,255 L1357.5,283 L1355.5,283 L1349.8,255 Z" fill="#1a6fdf"/></g>
<g fill="none" stroke="#000" stroke-width="5.8" stroke-linecap="round" stroke-linejoin="round"><path d="M254.0,18.95 H228.5 V1414.2 H1961.0" />
<path d="M228.5,158.55 H254.0" />
<path d="M228.5,298.15 H254.0" />
<path d="M228.5,437.75 H254.0" />
<path d="M228.5,577.35 H254.0" />
<path d="M228.5,716.95 H254.0" />
<path d="M228.5,856.55 H254.0" />
<path d="M228.5,996.15 H254.0" />
<path d="M228.5,1135.75 H254.0" />
<path d="M228.5,1275.35 H254.0" />
<path d="M372.8,1390.5 V1414.2" />
<path d="M517.2,1390.5 V1414.2" />
<path d="M661.6,1390.5 V1414.2" />
<path d="M805.9,1390.5 V1414.2" />
<path d="M950.3,1390.5 V1414.2" />
<path d="M1094.7,1390.5 V1414.2" />
<path d="M1239.1,1390.5 V1414.2" />
<path d="M1383.5,1390.5 V1414.2" />
<path d="M1527.9,1390.5 V1414.2" />
<path d="M1672.2,1390.5 V1414.2" />
<path d="M1817.9,1390.5 V1414.2" />
<path d="M1961.0,1390.5 V1414.2" /></g>
<g font-family="Liberation Serif, serif" font-size="63.0" fill="#111" stroke="#fff" stroke-width="1"><text transform="translate(169.6,42.8) scale(0.95,1)" text-anchor="end">50</text>
<text transform="translate(167.85,42.8) scale(0.627,1)">%</text>
<text transform="translate(169.6,182.4) scale(0.95,1)" text-anchor="end">45</text>
<text transform="translate(167.85,182.4) scale(0.627,1)">%</text>
<text transform="translate(169.6,322.0) scale(0.95,1)" text-anchor="end">40</text>
<text transform="translate(167.85,322.0) scale(0.627,1)">%</text>
<text transform="translate(169.6,461.6) scale(0.95,1)" text-anchor="end">35</text>
<text transform="translate(167.85,461.6) scale(0.627,1)">%</text>
<text transform="translate(169.6,601.2) scale(0.95,1)" text-anchor="end">30</text>
<text transform="translate(167.85,601.2) scale(0.627,1)">%</text>
<text transform="translate(169.6,740.9) scale(0.95,1)" text-anchor="end">25</text>
<text transform="translate(167.85,740.9) scale(0.627,1)">%</text>
<text transform="translate(169.6,880.4) scale(0.95,1)" text-anchor="end">20</text>
<text transform="translate(167.85,880.4) scale(0.627,1)">%</text>
<text transform="translate(169.6,1020.0) scale(0.95,1)" text-anchor="end">15</text>
<text transform="translate(167.85,1020.0) scale(0.627,1)">%</text>
<text transform="translate(169.6,1159.7) scale(0.95,1)" text-anchor="end">10</text>
<text transform="translate(167.85,1159.7) scale(0.627,1)">%</text>
<text transform="translate(169.6,1299.2) scale(0.95,1)" text-anchor="end">5</text>
<text transform="translate(167.85,1299.2) scale(0.627,1)">%</text>
<text transform="translate(169.6,1438.9) scale(0.95,1)" text-anchor="end">0</text>
<text transform="translate(167.85,1438.9) scale(0.627,1)">%</text></g>
<g font-family="Liberation Serif, serif" font-size="63" fill="#111" stroke="#fff" stroke-width="1" text-anchor="middle"><text transform="translate(0,1495.8) scale(0.95,1)" x="209.9 233.4 273.4">0.0</text>
<text transform="translate(0,1495.8) scale(0.95,1)" x="361.9 385.4 425.4">0.5</text>
<text transform="translate(0,1495.8) scale(0.95,1)" x="513.9 537.3 577.3">1.0</text>
<text transform="translate(0,1495.8) scale(0.95,1)" x="665.8 689.3 729.3">1.5</text>
<text transform="translate(0,1495.8) scale(0.95,1)" x="817.8 841.3 881.3">2.0</text>
<text transform="translate(0,1495.8) scale(0.95,1)" x="969.8 993.3 1033.3">2.5</text>
<text transform="translate(0,1495.8) scale(0.95,1)" x="1121.8 1145.3 1185.3">3.0</text>
<text transform="translate(0,1495.8) scale(0.95,1)" x="1273.8 1297.3 1337.3">3.5</text>
<text transform="translate(0,1495.8) scale(0.95,1)" x="1425.8 1449.2 1489.2">4.0</text>
<text transform="translate(0,1495.8) scale(0.95,1)" x="1577.8 1601.2 1641.2">4.5</text>
<text transform="translate(0,1495.8) scale(0.95,1)" x="1729.7 1753.2 1793.2">5.0</text>
<text transform="translate(0,1495.8) scale(0.95,1)" x="1883.1 1906.5 1946.5">5.5</text>
<text transform="translate(0,1495.8) scale(0.95,1)" x="2033.7 2057.2 2097.2">6.0</text></g>
<text x="298.8" y="130" font-family="Liberation Serif, serif" font-weight="bold" font-size="70.9" fill="#000" textLength="652.3" lengthAdjust="spacingAndGlyphs">Laser incidence Angle</text>
<g stroke-width="10" stroke-linecap="round"><path d="M398,187.5 H543" stroke="#4f4f4f"/>
<path d="M398,267.6 H543" stroke="#ef3a3c"/>
<path d="M398,347.7 H543" stroke="#1a6fdf"/></g>
<g font-family="Liberation Serif, serif" fill="#111" stroke="#fff" stroke-width="1"><text transform="translate(578.2,213.7) scale(0.935,1)" font-size="77.4">30</text>
<text x="656.8" y="198.9" font-size="60">°</text>
<text transform="translate(578.2,293.6) scale(0.935,1)" font-size="77.4">40</text>
<text x="656.8" y="278.8" font-size="60">°</text>
<text transform="translate(578.2,373.5) scale(0.935,1)" font-size="77.4">50</text>
<text x="656.8" y="358.7" font-size="60">°</text></g>

<text x="848.0" y="1585.7" font-family="Liberation Serif, serif" font-weight="bold" font-size="81.3" fill="#000" textLength="653.9" lengthAdjust="spacingAndGlyphs">Optical path length</text>
<text transform="translate(54.3,1236.5) rotate(-90)" font-family="Liberation Serif, serif" font-weight="bold" font-size="80.3" fill="#000" textLength="947.6" lengthAdjust="spacingAndGlyphs">Natural gas volume fraction</text>

</svg>
</body></html>
